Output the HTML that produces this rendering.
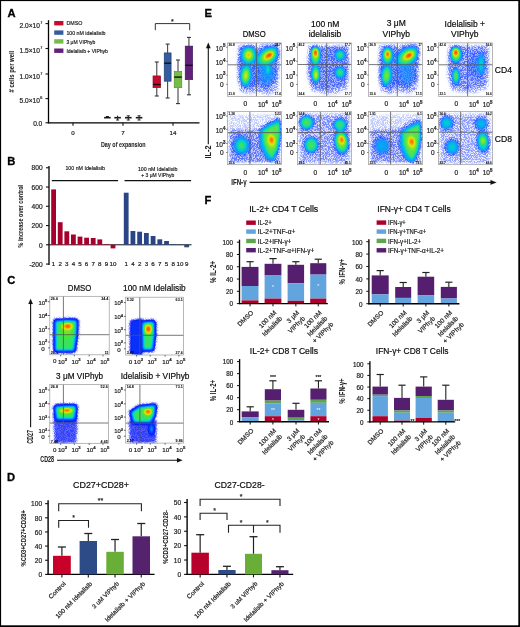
<!DOCTYPE html>
<html><head><meta charset="utf-8"><style>
html,body{margin:0;padding:0;background:#fff;width:520px;height:627px;overflow:hidden}
svg{display:block;filter:blur(0.35px)}
text{font-family:"Liberation Sans", sans-serif;stroke:#222;stroke-width:0.2px}
text[fill="#fff"]{stroke:none}
text[font-weight="bold"]{stroke-width:0.05px}
</style></head><body>
<svg width="520" height="627" viewBox="0 0 520 627">
<defs><radialGradient id="rgw"><stop offset="0" stop-color="#fff" stop-opacity="1"/><stop offset="0.45" stop-color="#fff" stop-opacity="0.75"/><stop offset="1" stop-color="#fff" stop-opacity="0"/></radialGradient><radialGradient id="rgf"><stop offset="0" stop-color="#fff" stop-opacity="1"/><stop offset="0.55" stop-color="#fff" stop-opacity="0.8"/><stop offset="1" stop-color="#fff" stop-opacity="0"/></radialGradient><filter id="fl1" filterUnits="userSpaceOnUse" x="49.8" y="296.3" width="59.400000000000006" height="58.5" color-interpolation-filters="sRGB"><feFlood flood-color="#000" result="bk"/><feGaussianBlur in="SourceGraphic" stdDeviation="0.8" result="bl"/><feComposite in="bl" in2="bk" operator="over" result="gr"/><feComponentTransfer in="gr" result="col"><feFuncR type="table" tableValues="1.000 0.890 0.780 0.637 0.494 0.360 0.260 0.160 0.060 0.041 0.023 0.004 0.000 0.000 0.000 0.000 0.010 0.022 0.035 0.048 0.092 0.144 0.196 0.248 0.300 0.415 0.529 0.644 0.758 0.856 0.888 0.919 0.950 0.981 0.995 0.983 0.970 0.958 0.945 0.932 0.920"/><feFuncG type="table" tableValues="1.000 0.900 0.800 0.664 0.529 0.401 0.307 0.214 0.120 0.170 0.220 0.270 0.356 0.451 0.546 0.641 0.704 0.759 0.814 0.869 0.883 0.888 0.892 0.896 0.900 0.904 0.908 0.913 0.917 0.905 0.827 0.750 0.673 0.596 0.523 0.456 0.389 0.322 0.254 0.187 0.120"/><feFuncB type="table" tableValues="1.000 1.000 1.000 1.000 1.000 0.998 0.989 0.979 0.970 0.979 0.989 0.998 1.000 1.000 1.000 1.000 0.940 0.865 0.790 0.715 0.617 0.512 0.408 0.304 0.200 0.169 0.137 0.106 0.075 0.048 0.037 0.027 0.017 0.006 0.000 0.000 0.000 0.000 0.000 0.000 0.000"/></feComponentTransfer><feTurbulence type="fractalNoise" baseFrequency="1.3" numOctaves="1" seed="1" result="tn"/><feComponentTransfer in="tn" result="spk"><feFuncR type="linear" slope="0" intercept="1"/><feFuncG type="linear" slope="0" intercept="1"/><feFuncB type="linear" slope="0" intercept="1"/><feFuncA type="linear" slope="6" intercept="-2.6"/></feComponentTransfer><feColorMatrix in="gr" type="matrix" values="0 0 0 0 1  0 0 0 0 1  0 0 0 0 1  -7.00 0 0 0 1.35" result="msk"/><feComposite in="spk" in2="msk" operator="in" result="spk2"/><feComposite in="spk2" in2="col" operator="over"/></filter><filter id="fl2" filterUnits="userSpaceOnUse" x="125.7" y="297.2" width="57.89999999999999" height="57.80000000000001" color-interpolation-filters="sRGB"><feFlood flood-color="#000" result="bk"/><feGaussianBlur in="SourceGraphic" stdDeviation="0.8" result="bl"/><feComposite in="bl" in2="bk" operator="over" result="gr"/><feComponentTransfer in="gr" result="col"><feFuncR type="table" tableValues="1.000 0.890 0.780 0.637 0.494 0.360 0.260 0.160 0.060 0.041 0.023 0.004 0.000 0.000 0.000 0.000 0.010 0.022 0.035 0.048 0.092 0.144 0.196 0.248 0.300 0.415 0.529 0.644 0.758 0.856 0.888 0.919 0.950 0.981 0.995 0.983 0.970 0.958 0.945 0.932 0.920"/><feFuncG type="table" tableValues="1.000 0.900 0.800 0.664 0.529 0.401 0.307 0.214 0.120 0.170 0.220 0.270 0.356 0.451 0.546 0.641 0.704 0.759 0.814 0.869 0.883 0.888 0.892 0.896 0.900 0.904 0.908 0.913 0.917 0.905 0.827 0.750 0.673 0.596 0.523 0.456 0.389 0.322 0.254 0.187 0.120"/><feFuncB type="table" tableValues="1.000 1.000 1.000 1.000 1.000 0.998 0.989 0.979 0.970 0.979 0.989 0.998 1.000 1.000 1.000 1.000 0.940 0.865 0.790 0.715 0.617 0.512 0.408 0.304 0.200 0.169 0.137 0.106 0.075 0.048 0.037 0.027 0.017 0.006 0.000 0.000 0.000 0.000 0.000 0.000 0.000"/></feComponentTransfer><feTurbulence type="fractalNoise" baseFrequency="1.3" numOctaves="1" seed="2" result="tn"/><feComponentTransfer in="tn" result="spk"><feFuncR type="linear" slope="0" intercept="1"/><feFuncG type="linear" slope="0" intercept="1"/><feFuncB type="linear" slope="0" intercept="1"/><feFuncA type="linear" slope="6" intercept="-2.6"/></feComponentTransfer><feColorMatrix in="gr" type="matrix" values="0 0 0 0 1  0 0 0 0 1  0 0 0 0 1  -7.00 0 0 0 1.35" result="msk"/><feComposite in="spk" in2="msk" operator="in" result="spk2"/><feComposite in="spk2" in2="col" operator="over"/></filter><filter id="fl3" filterUnits="userSpaceOnUse" x="49.8" y="384.6" width="58.8" height="58.69999999999999" color-interpolation-filters="sRGB"><feFlood flood-color="#000" result="bk"/><feGaussianBlur in="SourceGraphic" stdDeviation="0.8" result="bl"/><feComposite in="bl" in2="bk" operator="over" result="gr"/><feComponentTransfer in="gr" result="col"><feFuncR type="table" tableValues="1.000 0.890 0.780 0.637 0.494 0.360 0.260 0.160 0.060 0.041 0.023 0.004 0.000 0.000 0.000 0.000 0.010 0.022 0.035 0.048 0.092 0.144 0.196 0.248 0.300 0.415 0.529 0.644 0.758 0.856 0.888 0.919 0.950 0.981 0.995 0.983 0.970 0.958 0.945 0.932 0.920"/><feFuncG type="table" tableValues="1.000 0.900 0.800 0.664 0.529 0.401 0.307 0.214 0.120 0.170 0.220 0.270 0.356 0.451 0.546 0.641 0.704 0.759 0.814 0.869 0.883 0.888 0.892 0.896 0.900 0.904 0.908 0.913 0.917 0.905 0.827 0.750 0.673 0.596 0.523 0.456 0.389 0.322 0.254 0.187 0.120"/><feFuncB type="table" tableValues="1.000 1.000 1.000 1.000 1.000 0.998 0.989 0.979 0.970 0.979 0.989 0.998 1.000 1.000 1.000 1.000 0.940 0.865 0.790 0.715 0.617 0.512 0.408 0.304 0.200 0.169 0.137 0.106 0.075 0.048 0.037 0.027 0.017 0.006 0.000 0.000 0.000 0.000 0.000 0.000 0.000"/></feComponentTransfer><feTurbulence type="fractalNoise" baseFrequency="1.3" numOctaves="1" seed="3" result="tn"/><feComponentTransfer in="tn" result="spk"><feFuncR type="linear" slope="0" intercept="1"/><feFuncG type="linear" slope="0" intercept="1"/><feFuncB type="linear" slope="0" intercept="1"/><feFuncA type="linear" slope="6" intercept="-2.6"/></feComponentTransfer><feColorMatrix in="gr" type="matrix" values="0 0 0 0 1  0 0 0 0 1  0 0 0 0 1  -7.00 0 0 0 1.35" result="msk"/><feComposite in="spk" in2="msk" operator="in" result="spk2"/><feComposite in="spk2" in2="col" operator="over"/></filter><filter id="fl4" filterUnits="userSpaceOnUse" x="125.7" y="384.6" width="57.89999999999999" height="58.5" color-interpolation-filters="sRGB"><feFlood flood-color="#000" result="bk"/><feGaussianBlur in="SourceGraphic" stdDeviation="0.8" result="bl"/><feComposite in="bl" in2="bk" operator="over" result="gr"/><feComponentTransfer in="gr" result="col"><feFuncR type="table" tableValues="1.000 0.890 0.780 0.637 0.494 0.360 0.260 0.160 0.060 0.041 0.023 0.004 0.000 0.000 0.000 0.000 0.010 0.022 0.035 0.048 0.092 0.144 0.196 0.248 0.300 0.415 0.529 0.644 0.758 0.856 0.888 0.919 0.950 0.981 0.995 0.983 0.970 0.958 0.945 0.932 0.920"/><feFuncG type="table" tableValues="1.000 0.900 0.800 0.664 0.529 0.401 0.307 0.214 0.120 0.170 0.220 0.270 0.356 0.451 0.546 0.641 0.704 0.759 0.814 0.869 0.883 0.888 0.892 0.896 0.900 0.904 0.908 0.913 0.917 0.905 0.827 0.750 0.673 0.596 0.523 0.456 0.389 0.322 0.254 0.187 0.120"/><feFuncB type="table" tableValues="1.000 1.000 1.000 1.000 1.000 0.998 0.989 0.979 0.970 0.979 0.989 0.998 1.000 1.000 1.000 1.000 0.940 0.865 0.790 0.715 0.617 0.512 0.408 0.304 0.200 0.169 0.137 0.106 0.075 0.048 0.037 0.027 0.017 0.006 0.000 0.000 0.000 0.000 0.000 0.000 0.000"/></feComponentTransfer><feTurbulence type="fractalNoise" baseFrequency="1.3" numOctaves="1" seed="4" result="tn"/><feComponentTransfer in="tn" result="spk"><feFuncR type="linear" slope="0" intercept="1"/><feFuncG type="linear" slope="0" intercept="1"/><feFuncB type="linear" slope="0" intercept="1"/><feFuncA type="linear" slope="6" intercept="-2.6"/></feComponentTransfer><feColorMatrix in="gr" type="matrix" values="0 0 0 0 1  0 0 0 0 1  0 0 0 0 1  -7.00 0 0 0 1.35" result="msk"/><feComposite in="spk" in2="msk" operator="in" result="spk2"/><feComposite in="spk2" in2="col" operator="over"/></filter><filter id="fl5" filterUnits="userSpaceOnUse" x="227.6" y="42.9" width="54.00000000000003" height="53.4" color-interpolation-filters="sRGB"><feFlood flood-color="#000" result="bk"/><feGaussianBlur in="SourceGraphic" stdDeviation="1.0" result="bl"/><feComposite in="bl" in2="bk" operator="over" result="gr"/><feComponentTransfer in="gr" result="col"><feFuncR type="table" tableValues="1.000 0.875 0.750 0.625 0.500 0.388 0.325 0.263 0.200 0.163 0.125 0.087 0.050 0.037 0.025 0.013 0.000 0.050 0.100 0.150 0.200 0.263 0.325 0.387 0.450 0.533 0.617 0.700 0.783 0.856 0.888 0.919 0.950 0.981 0.995 0.983 0.970 0.958 0.945 0.932 0.920"/><feFuncG type="table" tableValues="1.000 0.900 0.800 0.686 0.571 0.472 0.435 0.398 0.360 0.415 0.470 0.525 0.580 0.635 0.690 0.745 0.800 0.820 0.840 0.860 0.880 0.885 0.890 0.895 0.900 0.904 0.908 0.913 0.917 0.905 0.827 0.750 0.673 0.596 0.523 0.456 0.389 0.322 0.254 0.187 0.120"/><feFuncB type="table" tableValues="1.000 1.000 1.000 1.000 1.000 1.000 1.000 1.000 1.000 1.000 1.000 1.000 1.000 0.963 0.925 0.887 0.850 0.750 0.650 0.550 0.450 0.387 0.325 0.263 0.200 0.169 0.137 0.106 0.075 0.048 0.037 0.027 0.017 0.006 0.000 0.000 0.000 0.000 0.000 0.000 0.000"/></feComponentTransfer><feTurbulence type="fractalNoise" baseFrequency="1.3" numOctaves="1" seed="5" result="tn"/><feComponentTransfer in="tn" result="spk"><feFuncR type="linear" slope="0" intercept="1"/><feFuncG type="linear" slope="0" intercept="1"/><feFuncB type="linear" slope="0" intercept="1"/><feFuncA type="linear" slope="6" intercept="-2.6"/></feComponentTransfer><feColorMatrix in="gr" type="matrix" values="0 0 0 0 1  0 0 0 0 1  0 0 0 0 1  -3.60 0 0 0 1.15" result="msk"/><feComposite in="spk" in2="msk" operator="in" result="spk2"/><feComposite in="spk2" in2="col" operator="over"/></filter><filter id="fl6" filterUnits="userSpaceOnUse" x="297.5" y="42.9" width="54.0" height="53.4" color-interpolation-filters="sRGB"><feFlood flood-color="#000" result="bk"/><feGaussianBlur in="SourceGraphic" stdDeviation="1.0" result="bl"/><feComposite in="bl" in2="bk" operator="over" result="gr"/><feComponentTransfer in="gr" result="col"><feFuncR type="table" tableValues="1.000 0.875 0.750 0.625 0.500 0.388 0.325 0.263 0.200 0.163 0.125 0.087 0.050 0.037 0.025 0.013 0.000 0.050 0.100 0.150 0.200 0.263 0.325 0.387 0.450 0.533 0.617 0.700 0.783 0.856 0.888 0.919 0.950 0.981 0.995 0.983 0.970 0.958 0.945 0.932 0.920"/><feFuncG type="table" tableValues="1.000 0.900 0.800 0.686 0.571 0.472 0.435 0.398 0.360 0.415 0.470 0.525 0.580 0.635 0.690 0.745 0.800 0.820 0.840 0.860 0.880 0.885 0.890 0.895 0.900 0.904 0.908 0.913 0.917 0.905 0.827 0.750 0.673 0.596 0.523 0.456 0.389 0.322 0.254 0.187 0.120"/><feFuncB type="table" tableValues="1.000 1.000 1.000 1.000 1.000 1.000 1.000 1.000 1.000 1.000 1.000 1.000 1.000 0.963 0.925 0.887 0.850 0.750 0.650 0.550 0.450 0.387 0.325 0.263 0.200 0.169 0.137 0.106 0.075 0.048 0.037 0.027 0.017 0.006 0.000 0.000 0.000 0.000 0.000 0.000 0.000"/></feComponentTransfer><feTurbulence type="fractalNoise" baseFrequency="1.3" numOctaves="1" seed="6" result="tn"/><feComponentTransfer in="tn" result="spk"><feFuncR type="linear" slope="0" intercept="1"/><feFuncG type="linear" slope="0" intercept="1"/><feFuncB type="linear" slope="0" intercept="1"/><feFuncA type="linear" slope="6" intercept="-2.6"/></feComponentTransfer><feColorMatrix in="gr" type="matrix" values="0 0 0 0 1  0 0 0 0 1  0 0 0 0 1  -3.60 0 0 0 1.15" result="msk"/><feComposite in="spk" in2="msk" operator="in" result="spk2"/><feComposite in="spk2" in2="col" operator="over"/></filter><filter id="fl7" filterUnits="userSpaceOnUse" x="368.6" y="42.9" width="54.0" height="53.4" color-interpolation-filters="sRGB"><feFlood flood-color="#000" result="bk"/><feGaussianBlur in="SourceGraphic" stdDeviation="1.0" result="bl"/><feComposite in="bl" in2="bk" operator="over" result="gr"/><feComponentTransfer in="gr" result="col"><feFuncR type="table" tableValues="1.000 0.875 0.750 0.625 0.500 0.388 0.325 0.263 0.200 0.163 0.125 0.087 0.050 0.037 0.025 0.013 0.000 0.050 0.100 0.150 0.200 0.263 0.325 0.387 0.450 0.533 0.617 0.700 0.783 0.856 0.888 0.919 0.950 0.981 0.995 0.983 0.970 0.958 0.945 0.932 0.920"/><feFuncG type="table" tableValues="1.000 0.900 0.800 0.686 0.571 0.472 0.435 0.398 0.360 0.415 0.470 0.525 0.580 0.635 0.690 0.745 0.800 0.820 0.840 0.860 0.880 0.885 0.890 0.895 0.900 0.904 0.908 0.913 0.917 0.905 0.827 0.750 0.673 0.596 0.523 0.456 0.389 0.322 0.254 0.187 0.120"/><feFuncB type="table" tableValues="1.000 1.000 1.000 1.000 1.000 1.000 1.000 1.000 1.000 1.000 1.000 1.000 1.000 0.963 0.925 0.887 0.850 0.750 0.650 0.550 0.450 0.387 0.325 0.263 0.200 0.169 0.137 0.106 0.075 0.048 0.037 0.027 0.017 0.006 0.000 0.000 0.000 0.000 0.000 0.000 0.000"/></feComponentTransfer><feTurbulence type="fractalNoise" baseFrequency="1.3" numOctaves="1" seed="7" result="tn"/><feComponentTransfer in="tn" result="spk"><feFuncR type="linear" slope="0" intercept="1"/><feFuncG type="linear" slope="0" intercept="1"/><feFuncB type="linear" slope="0" intercept="1"/><feFuncA type="linear" slope="6" intercept="-2.6"/></feComponentTransfer><feColorMatrix in="gr" type="matrix" values="0 0 0 0 1  0 0 0 0 1  0 0 0 0 1  -3.60 0 0 0 1.15" result="msk"/><feComposite in="spk" in2="msk" operator="in" result="spk2"/><feComposite in="spk2" in2="col" operator="over"/></filter><filter id="fl8" filterUnits="userSpaceOnUse" x="438.6" y="42.9" width="54.0" height="53.4" color-interpolation-filters="sRGB"><feFlood flood-color="#000" result="bk"/><feGaussianBlur in="SourceGraphic" stdDeviation="1.0" result="bl"/><feComposite in="bl" in2="bk" operator="over" result="gr"/><feComponentTransfer in="gr" result="col"><feFuncR type="table" tableValues="1.000 0.875 0.750 0.625 0.500 0.388 0.325 0.263 0.200 0.163 0.125 0.087 0.050 0.037 0.025 0.013 0.000 0.050 0.100 0.150 0.200 0.263 0.325 0.387 0.450 0.533 0.617 0.700 0.783 0.856 0.888 0.919 0.950 0.981 0.995 0.983 0.970 0.958 0.945 0.932 0.920"/><feFuncG type="table" tableValues="1.000 0.900 0.800 0.686 0.571 0.472 0.435 0.398 0.360 0.415 0.470 0.525 0.580 0.635 0.690 0.745 0.800 0.820 0.840 0.860 0.880 0.885 0.890 0.895 0.900 0.904 0.908 0.913 0.917 0.905 0.827 0.750 0.673 0.596 0.523 0.456 0.389 0.322 0.254 0.187 0.120"/><feFuncB type="table" tableValues="1.000 1.000 1.000 1.000 1.000 1.000 1.000 1.000 1.000 1.000 1.000 1.000 1.000 0.963 0.925 0.887 0.850 0.750 0.650 0.550 0.450 0.387 0.325 0.263 0.200 0.169 0.137 0.106 0.075 0.048 0.037 0.027 0.017 0.006 0.000 0.000 0.000 0.000 0.000 0.000 0.000"/></feComponentTransfer><feTurbulence type="fractalNoise" baseFrequency="1.3" numOctaves="1" seed="8" result="tn"/><feComponentTransfer in="tn" result="spk"><feFuncR type="linear" slope="0" intercept="1"/><feFuncG type="linear" slope="0" intercept="1"/><feFuncB type="linear" slope="0" intercept="1"/><feFuncA type="linear" slope="6" intercept="-2.6"/></feComponentTransfer><feColorMatrix in="gr" type="matrix" values="0 0 0 0 1  0 0 0 0 1  0 0 0 0 1  -3.60 0 0 0 1.15" result="msk"/><feComposite in="spk" in2="msk" operator="in" result="spk2"/><feComposite in="spk2" in2="col" operator="over"/></filter><filter id="fl9" filterUnits="userSpaceOnUse" x="227.6" y="111.6" width="54.00000000000003" height="53.099999999999994" color-interpolation-filters="sRGB"><feFlood flood-color="#000" result="bk"/><feGaussianBlur in="SourceGraphic" stdDeviation="1.2" result="bl"/><feComposite in="bl" in2="bk" operator="over" result="gr"/><feComponentTransfer in="gr" result="col"><feFuncR type="table" tableValues="1.000 0.875 0.750 0.625 0.500 0.388 0.325 0.263 0.200 0.163 0.125 0.087 0.050 0.037 0.025 0.013 0.000 0.050 0.100 0.150 0.200 0.263 0.325 0.387 0.450 0.533 0.617 0.700 0.783 0.856 0.888 0.919 0.950 0.981 0.995 0.983 0.970 0.958 0.945 0.932 0.920"/><feFuncG type="table" tableValues="1.000 0.900 0.800 0.686 0.571 0.472 0.435 0.398 0.360 0.415 0.470 0.525 0.580 0.635 0.690 0.745 0.800 0.820 0.840 0.860 0.880 0.885 0.890 0.895 0.900 0.904 0.908 0.913 0.917 0.905 0.827 0.750 0.673 0.596 0.523 0.456 0.389 0.322 0.254 0.187 0.120"/><feFuncB type="table" tableValues="1.000 1.000 1.000 1.000 1.000 1.000 1.000 1.000 1.000 1.000 1.000 1.000 1.000 0.963 0.925 0.887 0.850 0.750 0.650 0.550 0.450 0.387 0.325 0.263 0.200 0.169 0.137 0.106 0.075 0.048 0.037 0.027 0.017 0.006 0.000 0.000 0.000 0.000 0.000 0.000 0.000"/></feComponentTransfer><feTurbulence type="fractalNoise" baseFrequency="1.3" numOctaves="1" seed="9" result="tn"/><feComponentTransfer in="tn" result="spk"><feFuncR type="linear" slope="0" intercept="1"/><feFuncG type="linear" slope="0" intercept="1"/><feFuncB type="linear" slope="0" intercept="1"/><feFuncA type="linear" slope="6" intercept="-2.6"/></feComponentTransfer><feColorMatrix in="gr" type="matrix" values="0 0 0 0 1  0 0 0 0 1  0 0 0 0 1  -3.60 0 0 0 1.15" result="msk"/><feComposite in="spk" in2="msk" operator="in" result="spk2"/><feComposite in="spk2" in2="col" operator="over"/></filter><filter id="fl10" filterUnits="userSpaceOnUse" x="297.5" y="111.6" width="54.0" height="53.099999999999994" color-interpolation-filters="sRGB"><feFlood flood-color="#000" result="bk"/><feGaussianBlur in="SourceGraphic" stdDeviation="1.2" result="bl"/><feComposite in="bl" in2="bk" operator="over" result="gr"/><feComponentTransfer in="gr" result="col"><feFuncR type="table" tableValues="1.000 0.875 0.750 0.625 0.500 0.388 0.325 0.263 0.200 0.163 0.125 0.087 0.050 0.037 0.025 0.013 0.000 0.050 0.100 0.150 0.200 0.263 0.325 0.387 0.450 0.533 0.617 0.700 0.783 0.856 0.888 0.919 0.950 0.981 0.995 0.983 0.970 0.958 0.945 0.932 0.920"/><feFuncG type="table" tableValues="1.000 0.900 0.800 0.686 0.571 0.472 0.435 0.398 0.360 0.415 0.470 0.525 0.580 0.635 0.690 0.745 0.800 0.820 0.840 0.860 0.880 0.885 0.890 0.895 0.900 0.904 0.908 0.913 0.917 0.905 0.827 0.750 0.673 0.596 0.523 0.456 0.389 0.322 0.254 0.187 0.120"/><feFuncB type="table" tableValues="1.000 1.000 1.000 1.000 1.000 1.000 1.000 1.000 1.000 1.000 1.000 1.000 1.000 0.963 0.925 0.887 0.850 0.750 0.650 0.550 0.450 0.387 0.325 0.263 0.200 0.169 0.137 0.106 0.075 0.048 0.037 0.027 0.017 0.006 0.000 0.000 0.000 0.000 0.000 0.000 0.000"/></feComponentTransfer><feTurbulence type="fractalNoise" baseFrequency="1.3" numOctaves="1" seed="10" result="tn"/><feComponentTransfer in="tn" result="spk"><feFuncR type="linear" slope="0" intercept="1"/><feFuncG type="linear" slope="0" intercept="1"/><feFuncB type="linear" slope="0" intercept="1"/><feFuncA type="linear" slope="6" intercept="-2.6"/></feComponentTransfer><feColorMatrix in="gr" type="matrix" values="0 0 0 0 1  0 0 0 0 1  0 0 0 0 1  -3.60 0 0 0 1.15" result="msk"/><feComposite in="spk" in2="msk" operator="in" result="spk2"/><feComposite in="spk2" in2="col" operator="over"/></filter><filter id="fl11" filterUnits="userSpaceOnUse" x="368.6" y="111.6" width="54.0" height="53.099999999999994" color-interpolation-filters="sRGB"><feFlood flood-color="#000" result="bk"/><feGaussianBlur in="SourceGraphic" stdDeviation="1.2" result="bl"/><feComposite in="bl" in2="bk" operator="over" result="gr"/><feComponentTransfer in="gr" result="col"><feFuncR type="table" tableValues="1.000 0.875 0.750 0.625 0.500 0.388 0.325 0.263 0.200 0.163 0.125 0.087 0.050 0.037 0.025 0.013 0.000 0.050 0.100 0.150 0.200 0.263 0.325 0.387 0.450 0.533 0.617 0.700 0.783 0.856 0.888 0.919 0.950 0.981 0.995 0.983 0.970 0.958 0.945 0.932 0.920"/><feFuncG type="table" tableValues="1.000 0.900 0.800 0.686 0.571 0.472 0.435 0.398 0.360 0.415 0.470 0.525 0.580 0.635 0.690 0.745 0.800 0.820 0.840 0.860 0.880 0.885 0.890 0.895 0.900 0.904 0.908 0.913 0.917 0.905 0.827 0.750 0.673 0.596 0.523 0.456 0.389 0.322 0.254 0.187 0.120"/><feFuncB type="table" tableValues="1.000 1.000 1.000 1.000 1.000 1.000 1.000 1.000 1.000 1.000 1.000 1.000 1.000 0.963 0.925 0.887 0.850 0.750 0.650 0.550 0.450 0.387 0.325 0.263 0.200 0.169 0.137 0.106 0.075 0.048 0.037 0.027 0.017 0.006 0.000 0.000 0.000 0.000 0.000 0.000 0.000"/></feComponentTransfer><feTurbulence type="fractalNoise" baseFrequency="1.3" numOctaves="1" seed="11" result="tn"/><feComponentTransfer in="tn" result="spk"><feFuncR type="linear" slope="0" intercept="1"/><feFuncG type="linear" slope="0" intercept="1"/><feFuncB type="linear" slope="0" intercept="1"/><feFuncA type="linear" slope="6" intercept="-2.6"/></feComponentTransfer><feColorMatrix in="gr" type="matrix" values="0 0 0 0 1  0 0 0 0 1  0 0 0 0 1  -3.60 0 0 0 1.15" result="msk"/><feComposite in="spk" in2="msk" operator="in" result="spk2"/><feComposite in="spk2" in2="col" operator="over"/></filter><filter id="fl12" filterUnits="userSpaceOnUse" x="438.6" y="111.6" width="54.0" height="53.099999999999994" color-interpolation-filters="sRGB"><feFlood flood-color="#000" result="bk"/><feGaussianBlur in="SourceGraphic" stdDeviation="1.2" result="bl"/><feComposite in="bl" in2="bk" operator="over" result="gr"/><feComponentTransfer in="gr" result="col"><feFuncR type="table" tableValues="1.000 0.875 0.750 0.625 0.500 0.388 0.325 0.263 0.200 0.163 0.125 0.087 0.050 0.037 0.025 0.013 0.000 0.050 0.100 0.150 0.200 0.263 0.325 0.387 0.450 0.533 0.617 0.700 0.783 0.856 0.888 0.919 0.950 0.981 0.995 0.983 0.970 0.958 0.945 0.932 0.920"/><feFuncG type="table" tableValues="1.000 0.900 0.800 0.686 0.571 0.472 0.435 0.398 0.360 0.415 0.470 0.525 0.580 0.635 0.690 0.745 0.800 0.820 0.840 0.860 0.880 0.885 0.890 0.895 0.900 0.904 0.908 0.913 0.917 0.905 0.827 0.750 0.673 0.596 0.523 0.456 0.389 0.322 0.254 0.187 0.120"/><feFuncB type="table" tableValues="1.000 1.000 1.000 1.000 1.000 1.000 1.000 1.000 1.000 1.000 1.000 1.000 1.000 0.963 0.925 0.887 0.850 0.750 0.650 0.550 0.450 0.387 0.325 0.263 0.200 0.169 0.137 0.106 0.075 0.048 0.037 0.027 0.017 0.006 0.000 0.000 0.000 0.000 0.000 0.000 0.000"/></feComponentTransfer><feTurbulence type="fractalNoise" baseFrequency="1.3" numOctaves="1" seed="12" result="tn"/><feComponentTransfer in="tn" result="spk"><feFuncR type="linear" slope="0" intercept="1"/><feFuncG type="linear" slope="0" intercept="1"/><feFuncB type="linear" slope="0" intercept="1"/><feFuncA type="linear" slope="6" intercept="-2.6"/></feComponentTransfer><feColorMatrix in="gr" type="matrix" values="0 0 0 0 1  0 0 0 0 1  0 0 0 0 1  -3.60 0 0 0 1.15" result="msk"/><feComposite in="spk" in2="msk" operator="in" result="spk2"/><feComposite in="spk2" in2="col" operator="over"/></filter></defs>
<rect width="520" height="627" fill="#fff"/>
<text x="7.60" y="13.20" font-size="11.2" text-anchor="start" font-weight="bold" fill="#000" dominant-baseline="central" style="stroke:#000;stroke-width:0.3px">A</text>
<line x1="48.50" y1="20.20" x2="48.50" y2="123.20" stroke="#000" stroke-width="1.3"/>
<line x1="47.90" y1="122.80" x2="199.50" y2="122.80" stroke="#000" stroke-width="1.3"/>
<line x1="45.50" y1="23.60" x2="48.50" y2="23.60" stroke="#111" stroke-width="1.1"/>
<text x="39.9" y="25.60" font-size="6.6" text-anchor="end" dominant-baseline="central" fill="#222">2.0×10</text>
<text x="40.20" y="23.30" font-size="3.8" text-anchor="start" fill="#222" dominant-baseline="central">7</text>
<line x1="45.50" y1="48.50" x2="48.50" y2="48.50" stroke="#111" stroke-width="1.1"/>
<text x="39.9" y="50.50" font-size="6.6" text-anchor="end" dominant-baseline="central" fill="#222">1.5×10</text>
<text x="40.20" y="48.20" font-size="3.8" text-anchor="start" fill="#222" dominant-baseline="central">7</text>
<line x1="45.50" y1="74.00" x2="48.50" y2="74.00" stroke="#111" stroke-width="1.1"/>
<text x="39.9" y="76.00" font-size="6.6" text-anchor="end" dominant-baseline="central" fill="#222">1.0×10</text>
<text x="40.20" y="73.70" font-size="3.8" text-anchor="start" fill="#222" dominant-baseline="central">7</text>
<line x1="45.50" y1="98.60" x2="48.50" y2="98.60" stroke="#111" stroke-width="1.1"/>
<text x="39.9" y="100.60" font-size="6.6" text-anchor="end" dominant-baseline="central" fill="#222">5.0×10</text>
<text x="40.20" y="98.30" font-size="3.8" text-anchor="start" fill="#222" dominant-baseline="central">6</text>
<line x1="45.50" y1="122.80" x2="48.50" y2="122.80" stroke="#111" stroke-width="1.1"/>
<text x="42.30" y="123.60" font-size="6.6" text-anchor="end" fill="#222" dominant-baseline="central">0.0</text>
<line x1="73.00" y1="122.80" x2="73.00" y2="125.80" stroke="#111" stroke-width="1.1"/>
<text x="73.00" y="132.30" font-size="6.2" text-anchor="middle" fill="#222" dominant-baseline="central">0</text>
<line x1="123.00" y1="122.80" x2="123.00" y2="125.80" stroke="#111" stroke-width="1.1"/>
<text x="123.00" y="132.30" font-size="6.2" text-anchor="middle" fill="#222" dominant-baseline="central">7</text>
<line x1="173.00" y1="122.80" x2="173.00" y2="125.80" stroke="#111" stroke-width="1.1"/>
<text x="173.00" y="132.30" font-size="6.2" text-anchor="middle" fill="#222" dominant-baseline="central">14</text>
<text x="123.30" y="144.00" font-size="8.0" text-anchor="middle" font-weight="bold" fill="#222" textLength="44.7" lengthAdjust="spacingAndGlyphs" dominant-baseline="central">Day of expansion</text>
<text x="11.40" y="71.60" font-size="8.0" text-anchor="middle" font-weight="bold" fill="#222" textLength="41.6" lengthAdjust="spacingAndGlyphs" transform="rotate(-90 11.40 71.60)" dominant-baseline="central"># cells per well</text>
<rect x="54.20" y="21.00" width="9.20" height="4.40" fill="#c80a2c"/>
<text x="66.40" y="23.30" font-size="6.0" text-anchor="start" fill="#222" textLength="15.9" lengthAdjust="spacingAndGlyphs" dominant-baseline="central">DMSO</text>
<rect x="54.20" y="30.40" width="9.20" height="4.40" fill="#345c9e"/>
<text x="66.40" y="32.70" font-size="6.0" text-anchor="start" fill="#222" textLength="39.1" lengthAdjust="spacingAndGlyphs" dominant-baseline="central">100 nM idelalisib</text>
<rect x="54.20" y="39.20" width="9.20" height="4.40" fill="#78bc48"/>
<text x="66.40" y="41.50" font-size="6.0" text-anchor="start" fill="#222" textLength="29" lengthAdjust="spacingAndGlyphs" dominant-baseline="central">3 μM VIPhyb</text>
<rect x="54.20" y="48.50" width="9.20" height="4.40" fill="#62207a"/>
<text x="66.40" y="50.80" font-size="6.0" text-anchor="start" fill="#222" textLength="41.5" lengthAdjust="spacingAndGlyphs" dominant-baseline="central">Idelalisib + VIPhyb</text>
<path d="M155.3 30.2 V23.6 H189.7 V30.2" stroke="#333" stroke-width="1.0" fill="none"/>
<text x="172.30" y="21.60" font-size="7.2" text-anchor="middle" fill="#222" dominant-baseline="central">*</text>
<line x1="156.80" y1="62.00" x2="156.80" y2="75.90" stroke="#333" stroke-width="1.0"/>
<line x1="156.80" y1="87.70" x2="156.80" y2="96.00" stroke="#333" stroke-width="1.0"/>
<line x1="154.80" y1="62.00" x2="158.80" y2="62.00" stroke="#333" stroke-width="1.1"/>
<line x1="154.80" y1="96.00" x2="158.80" y2="96.00" stroke="#333" stroke-width="1.1"/>
<rect x="153.00" y="75.90" width="7.60" height="11.80" fill="#c80a2c" stroke="#8a0020" stroke-width="0.6"/>
<line x1="153.00" y1="84.50" x2="160.60" y2="84.50" stroke="#111" stroke-width="1.4"/>
<line x1="167.65" y1="44.10" x2="167.65" y2="52.90" stroke="#333" stroke-width="1.0"/>
<line x1="167.65" y1="81.20" x2="167.65" y2="98.00" stroke="#333" stroke-width="1.0"/>
<line x1="165.65" y1="44.10" x2="169.65" y2="44.10" stroke="#333" stroke-width="1.1"/>
<line x1="165.65" y1="98.00" x2="169.65" y2="98.00" stroke="#333" stroke-width="1.1"/>
<rect x="164.20" y="52.90" width="6.90" height="28.30" fill="#345c9e" stroke="#1d3566" stroke-width="0.6"/>
<line x1="164.20" y1="63.20" x2="171.10" y2="63.20" stroke="#111" stroke-width="1.4"/>
<line x1="178.00" y1="60.00" x2="178.00" y2="71.40" stroke="#333" stroke-width="1.0"/>
<line x1="178.00" y1="87.70" x2="178.00" y2="103.60" stroke="#333" stroke-width="1.0"/>
<line x1="176.00" y1="60.00" x2="180.00" y2="60.00" stroke="#333" stroke-width="1.1"/>
<line x1="176.00" y1="103.60" x2="180.00" y2="103.60" stroke="#333" stroke-width="1.1"/>
<rect x="174.20" y="71.40" width="7.60" height="16.30" fill="#78bc48" stroke="#4d8a2a" stroke-width="0.6"/>
<line x1="174.20" y1="77.10" x2="181.80" y2="77.10" stroke="#111" stroke-width="1.4"/>
<line x1="188.95" y1="37.40" x2="188.95" y2="46.10" stroke="#333" stroke-width="1.0"/>
<line x1="188.95" y1="79.70" x2="188.95" y2="94.80" stroke="#333" stroke-width="1.0"/>
<line x1="186.95" y1="37.40" x2="190.95" y2="37.40" stroke="#333" stroke-width="1.1"/>
<line x1="186.95" y1="94.80" x2="190.95" y2="94.80" stroke="#333" stroke-width="1.1"/>
<rect x="185.20" y="46.10" width="7.50" height="33.60" fill="#62207a" stroke="#3e1550" stroke-width="0.6"/>
<line x1="185.20" y1="65.30" x2="192.70" y2="65.30" stroke="#111" stroke-width="1.4"/>
<rect x="104.10" y="116.90" width="6.60" height="1.60" fill="#1a1a1a"/>
<rect x="105.90" y="116.00" width="3.00" height="1.20" fill="#1a1a1a"/>
<rect x="114.30" y="116.90" width="6.60" height="1.60" fill="#1a1a1a"/>
<line x1="117.60" y1="115.60" x2="117.60" y2="120.20" stroke="#222" stroke-width="1.0"/>
<line x1="116.00" y1="120.00" x2="119.20" y2="120.00" stroke="#222" stroke-width="0.9"/>
<rect x="125.00" y="116.90" width="6.60" height="1.60" fill="#1a1a1a"/>
<line x1="128.30" y1="115.60" x2="128.30" y2="120.20" stroke="#222" stroke-width="1.0"/>
<line x1="126.70" y1="120.00" x2="129.90" y2="120.00" stroke="#222" stroke-width="0.9"/>
<line x1="126.70" y1="115.80" x2="129.90" y2="115.80" stroke="#222" stroke-width="0.9"/>
<rect x="135.80" y="116.90" width="6.60" height="1.60" fill="#1a1a1a"/>
<line x1="139.10" y1="115.60" x2="139.10" y2="120.20" stroke="#222" stroke-width="1.0"/>
<line x1="137.50" y1="120.00" x2="140.70" y2="120.00" stroke="#222" stroke-width="0.9"/>
<line x1="137.50" y1="115.80" x2="140.70" y2="115.80" stroke="#222" stroke-width="0.9"/>
<text x="7.20" y="161.30" font-size="11.2" text-anchor="start" font-weight="bold" fill="#000" dominant-baseline="central" style="stroke:#000;stroke-width:0.3px">B</text>
<line x1="49.00" y1="166.00" x2="49.00" y2="265.00" stroke="#000" stroke-width="1.3"/>
<line x1="46.00" y1="167.76" x2="49.00" y2="167.76" stroke="#111" stroke-width="1.1"/>
<text x="42.60" y="167.96" font-size="6.6" text-anchor="end" fill="#222" dominant-baseline="central">800</text>
<line x1="46.00" y1="187.02" x2="49.00" y2="187.02" stroke="#111" stroke-width="1.1"/>
<text x="42.60" y="187.22" font-size="6.6" text-anchor="end" fill="#222" dominant-baseline="central">600</text>
<line x1="46.00" y1="206.28" x2="49.00" y2="206.28" stroke="#111" stroke-width="1.1"/>
<text x="42.60" y="206.48" font-size="6.6" text-anchor="end" fill="#222" dominant-baseline="central">400</text>
<line x1="46.00" y1="225.54" x2="49.00" y2="225.54" stroke="#111" stroke-width="1.1"/>
<text x="42.60" y="225.74" font-size="6.6" text-anchor="end" fill="#222" dominant-baseline="central">200</text>
<line x1="46.00" y1="244.80" x2="49.00" y2="244.80" stroke="#111" stroke-width="1.1"/>
<text x="42.60" y="245.00" font-size="6.6" text-anchor="end" fill="#222" dominant-baseline="central">0</text>
<line x1="46.00" y1="264.06" x2="49.00" y2="264.06" stroke="#111" stroke-width="1.1"/>
<text x="42.60" y="264.26" font-size="6.6" text-anchor="end" fill="#222" dominant-baseline="central">-200</text>
<line x1="49.00" y1="244.80" x2="191.50" y2="244.80" stroke="#111" stroke-width="1.0"/>
<line x1="51.80" y1="180.60" x2="118.10" y2="180.60" stroke="#111" stroke-width="1.1"/>
<line x1="124.50" y1="180.60" x2="191.10" y2="180.60" stroke="#111" stroke-width="1.1"/>
<text x="85.20" y="167.60" font-size="6.2" text-anchor="middle" fill="#222" textLength="39.5" lengthAdjust="spacingAndGlyphs" dominant-baseline="central">100 nM Idelalisib</text>
<text x="157.70" y="168.00" font-size="6.2" text-anchor="middle" fill="#222" textLength="39.5" lengthAdjust="spacingAndGlyphs" dominant-baseline="central">100 nM Idelalisib</text>
<text x="157.70" y="174.60" font-size="6.2" text-anchor="middle" fill="#222" textLength="33" lengthAdjust="spacingAndGlyphs" dominant-baseline="central">+ 3 μM VIPhyb</text>
<text x="20.80" y="216.20" font-size="8.0" text-anchor="middle" font-weight="bold" fill="#222" textLength="62.6" lengthAdjust="spacingAndGlyphs" transform="rotate(-90 20.80 216.20)" dominant-baseline="central">% increase over control</text>
<rect x="51.20" y="189.40" width="4.80" height="55.40" fill="#a8002e"/>
<text x="53.60" y="263.80" font-size="6.2" text-anchor="middle" fill="#222" dominant-baseline="central">1</text>
<rect x="57.80" y="222.20" width="4.80" height="22.60" fill="#a8002e"/>
<text x="60.20" y="263.80" font-size="6.2" text-anchor="middle" fill="#222" dominant-baseline="central">2</text>
<rect x="64.40" y="231.30" width="4.80" height="13.50" fill="#a8002e"/>
<text x="66.80" y="263.80" font-size="6.2" text-anchor="middle" fill="#222" dominant-baseline="central">3</text>
<rect x="71.00" y="234.50" width="4.80" height="10.30" fill="#a8002e"/>
<text x="73.40" y="263.80" font-size="6.2" text-anchor="middle" fill="#222" dominant-baseline="central">4</text>
<rect x="77.60" y="236.60" width="4.80" height="8.20" fill="#a8002e"/>
<text x="80.00" y="263.80" font-size="6.2" text-anchor="middle" fill="#222" dominant-baseline="central">5</text>
<rect x="84.20" y="237.70" width="4.80" height="7.10" fill="#a8002e"/>
<text x="86.60" y="263.80" font-size="6.2" text-anchor="middle" fill="#222" dominant-baseline="central">6</text>
<rect x="90.80" y="238.00" width="4.80" height="6.80" fill="#a8002e"/>
<text x="93.20" y="263.80" font-size="6.2" text-anchor="middle" fill="#222" dominant-baseline="central">7</text>
<rect x="97.40" y="239.40" width="4.80" height="5.40" fill="#a8002e"/>
<text x="99.80" y="263.80" font-size="6.2" text-anchor="middle" fill="#222" dominant-baseline="central">8</text>
<rect x="104.00" y="244.20" width="4.80" height="0.60" fill="#a8002e"/>
<text x="106.40" y="263.80" font-size="6.2" text-anchor="middle" fill="#222" dominant-baseline="central">9</text>
<rect x="110.60" y="244.80" width="4.80" height="3.60" fill="#a8002e"/>
<text x="113.00" y="263.80" font-size="6.2" text-anchor="middle" fill="#222" dominant-baseline="central">10</text>
<rect x="123.80" y="192.70" width="4.80" height="52.10" fill="#2a4585"/>
<text x="126.20" y="263.80" font-size="6.2" text-anchor="middle" fill="#222" dominant-baseline="central">1</text>
<rect x="130.52" y="231.00" width="4.80" height="13.80" fill="#2a4585"/>
<text x="132.92" y="263.80" font-size="6.2" text-anchor="middle" fill="#222" dominant-baseline="central">4</text>
<rect x="137.24" y="231.70" width="4.80" height="13.10" fill="#2a4585"/>
<text x="139.64" y="263.80" font-size="6.2" text-anchor="middle" fill="#222" dominant-baseline="central">2</text>
<rect x="143.96" y="233.00" width="4.80" height="11.80" fill="#2a4585"/>
<text x="146.36" y="263.80" font-size="6.2" text-anchor="middle" fill="#222" dominant-baseline="central">3</text>
<rect x="150.68" y="236.00" width="4.80" height="8.80" fill="#2a4585"/>
<text x="153.08" y="263.80" font-size="6.2" text-anchor="middle" fill="#222" dominant-baseline="central">6</text>
<rect x="157.40" y="239.30" width="4.80" height="5.50" fill="#2a4585"/>
<text x="159.80" y="263.80" font-size="6.2" text-anchor="middle" fill="#222" dominant-baseline="central">7</text>
<rect x="164.12" y="241.00" width="4.80" height="3.80" fill="#2a4585"/>
<text x="166.52" y="263.80" font-size="6.2" text-anchor="middle" fill="#222" dominant-baseline="central">5</text>
<rect x="170.84" y="244.00" width="4.80" height="0.80" fill="#2a4585"/>
<text x="173.24" y="263.80" font-size="6.2" text-anchor="middle" fill="#222" dominant-baseline="central">8</text>
<rect x="177.56" y="244.40" width="4.80" height="0.40" fill="#2a4585"/>
<text x="179.96" y="263.80" font-size="6.2" text-anchor="middle" fill="#222" dominant-baseline="central">10</text>
<rect x="184.28" y="244.80" width="4.80" height="2.50" fill="#2a4585"/>
<text x="186.68" y="263.80" font-size="6.2" text-anchor="middle" fill="#222" dominant-baseline="central">9</text>
<text x="7.00" y="477.40" font-size="11.2" text-anchor="start" font-weight="bold" fill="#000" dominant-baseline="central" style="stroke:#000;stroke-width:0.3px">D</text>
<line x1="48.10" y1="500.15" x2="48.10" y2="574.90" stroke="#000" stroke-width="1.4"/>
<line x1="45.10" y1="574.40" x2="48.10" y2="574.40" stroke="#111" stroke-width="1.1"/>
<text x="42.10" y="574.60" font-size="6.6" text-anchor="end" fill="#222" dominant-baseline="central">0</text>
<line x1="45.10" y1="560.25" x2="48.10" y2="560.25" stroke="#111" stroke-width="1.1"/>
<text x="42.10" y="560.45" font-size="6.6" text-anchor="end" fill="#222" dominant-baseline="central">20</text>
<line x1="45.10" y1="546.10" x2="48.10" y2="546.10" stroke="#111" stroke-width="1.1"/>
<text x="42.10" y="546.30" font-size="6.6" text-anchor="end" fill="#222" dominant-baseline="central">40</text>
<line x1="45.10" y1="531.95" x2="48.10" y2="531.95" stroke="#111" stroke-width="1.1"/>
<text x="42.10" y="532.15" font-size="6.6" text-anchor="end" fill="#222" dominant-baseline="central">60</text>
<line x1="45.10" y1="517.80" x2="48.10" y2="517.80" stroke="#111" stroke-width="1.1"/>
<text x="42.10" y="518.00" font-size="6.6" text-anchor="end" fill="#222" dominant-baseline="central">80</text>
<line x1="45.10" y1="503.65" x2="48.10" y2="503.65" stroke="#111" stroke-width="1.1"/>
<text x="42.10" y="503.85" font-size="6.6" text-anchor="end" fill="#222" dominant-baseline="central">100</text>
<line x1="47.40" y1="574.40" x2="154.50" y2="574.40" stroke="#000" stroke-width="1.4"/>
<line x1="61.90" y1="555.80" x2="61.90" y2="547.00" stroke="#222" stroke-width="1.2"/>
<line x1="57.90" y1="547.00" x2="65.90" y2="547.00" stroke="#222" stroke-width="1.3"/>
<rect x="53.00" y="555.80" width="17.80" height="18.60" fill="#c8002a"/>
<line x1="61.90" y1="574.40" x2="61.90" y2="577.40" stroke="#111" stroke-width="1.1"/>
<line x1="88.30" y1="541.00" x2="88.30" y2="533.50" stroke="#222" stroke-width="1.2"/>
<line x1="84.30" y1="533.50" x2="92.30" y2="533.50" stroke="#222" stroke-width="1.3"/>
<rect x="79.60" y="541.00" width="17.40" height="33.40" fill="#2d4b87"/>
<line x1="88.30" y1="574.40" x2="88.30" y2="577.40" stroke="#111" stroke-width="1.1"/>
<line x1="115.05" y1="551.80" x2="115.05" y2="539.50" stroke="#222" stroke-width="1.2"/>
<line x1="111.05" y1="539.50" x2="119.05" y2="539.50" stroke="#222" stroke-width="1.3"/>
<rect x="106.30" y="551.80" width="17.50" height="22.60" fill="#69af37"/>
<line x1="115.05" y1="574.40" x2="115.05" y2="577.40" stroke="#111" stroke-width="1.1"/>
<line x1="141.25" y1="536.30" x2="141.25" y2="523.50" stroke="#222" stroke-width="1.2"/>
<line x1="137.25" y1="523.50" x2="145.25" y2="523.50" stroke="#222" stroke-width="1.3"/>
<rect x="132.50" y="536.30" width="17.50" height="38.10" fill="#55236e"/>
<line x1="141.25" y1="574.40" x2="141.25" y2="577.40" stroke="#111" stroke-width="1.1"/>
<text x="101.00" y="484.60" font-size="8.6" text-anchor="middle" textLength="56" lengthAdjust="spacingAndGlyphs" dominant-baseline="central">CD27+CD28+</text>
<text x="23.40" y="538.30" font-size="7.0" text-anchor="middle" font-weight="bold" fill="#222" textLength="56.2" lengthAdjust="spacingAndGlyphs" transform="rotate(-90 23.40 538.30)" dominant-baseline="central">%CD3+CD27+CD28+</text>
<path d="M58.7 511.3 V503.8 H141.4 V511.3" stroke="#222" stroke-width="1.1" fill="none"/>
<path d="M58.7 527.7 V520.5 H88.5 V527.7" stroke="#222" stroke-width="1.1" fill="none"/>
<text x="73.60" y="517.60" font-size="7" text-anchor="middle" fill="#222" dominant-baseline="central">*</text>
<text x="100.50" y="500.90" font-size="7" text-anchor="middle" fill="#222" dominant-baseline="central">**</text>
<line x1="187.10" y1="499.00" x2="187.10" y2="574.90" stroke="#000" stroke-width="1.4"/>
<line x1="184.10" y1="574.40" x2="187.10" y2="574.40" stroke="#111" stroke-width="1.1"/>
<text x="181.10" y="574.60" font-size="6.6" text-anchor="end" fill="#222" dominant-baseline="central">0</text>
<line x1="184.10" y1="560.02" x2="187.10" y2="560.02" stroke="#111" stroke-width="1.1"/>
<text x="181.10" y="560.22" font-size="6.6" text-anchor="end" fill="#222" dominant-baseline="central">10</text>
<line x1="184.10" y1="545.64" x2="187.10" y2="545.64" stroke="#111" stroke-width="1.1"/>
<text x="181.10" y="545.84" font-size="6.6" text-anchor="end" fill="#222" dominant-baseline="central">20</text>
<line x1="184.10" y1="531.26" x2="187.10" y2="531.26" stroke="#111" stroke-width="1.1"/>
<text x="181.10" y="531.46" font-size="6.6" text-anchor="end" fill="#222" dominant-baseline="central">30</text>
<line x1="184.10" y1="516.88" x2="187.10" y2="516.88" stroke="#111" stroke-width="1.1"/>
<text x="181.10" y="517.08" font-size="6.6" text-anchor="end" fill="#222" dominant-baseline="central">40</text>
<line x1="184.10" y1="502.50" x2="187.10" y2="502.50" stroke="#111" stroke-width="1.1"/>
<text x="181.10" y="502.70" font-size="6.6" text-anchor="end" fill="#222" dominant-baseline="central">50</text>
<line x1="186.40" y1="574.40" x2="293.20" y2="574.40" stroke="#000" stroke-width="1.4"/>
<line x1="200.15" y1="552.70" x2="200.15" y2="534.70" stroke="#222" stroke-width="1.2"/>
<line x1="196.15" y1="534.70" x2="204.15" y2="534.70" stroke="#222" stroke-width="1.3"/>
<rect x="191.40" y="552.70" width="17.50" height="21.70" fill="#b8002c"/>
<line x1="200.15" y1="574.40" x2="200.15" y2="577.40" stroke="#111" stroke-width="1.1"/>
<line x1="226.95" y1="570.00" x2="226.95" y2="566.30" stroke="#222" stroke-width="1.2"/>
<line x1="222.95" y1="566.30" x2="230.95" y2="566.30" stroke="#222" stroke-width="1.3"/>
<rect x="218.30" y="570.00" width="17.30" height="4.40" fill="#2d4b87"/>
<line x1="226.95" y1="574.40" x2="226.95" y2="577.40" stroke="#111" stroke-width="1.1"/>
<line x1="253.50" y1="553.80" x2="253.50" y2="536.70" stroke="#222" stroke-width="1.2"/>
<line x1="249.50" y1="536.70" x2="257.50" y2="536.70" stroke="#222" stroke-width="1.3"/>
<rect x="245.00" y="553.80" width="17.00" height="20.60" fill="#69af37"/>
<line x1="253.50" y1="574.40" x2="253.50" y2="577.40" stroke="#111" stroke-width="1.1"/>
<line x1="279.95" y1="570.20" x2="279.95" y2="566.70" stroke="#222" stroke-width="1.2"/>
<line x1="275.95" y1="566.70" x2="283.95" y2="566.70" stroke="#222" stroke-width="1.3"/>
<rect x="271.40" y="570.20" width="17.10" height="4.20" fill="#55236e"/>
<line x1="279.95" y1="574.40" x2="279.95" y2="577.40" stroke="#111" stroke-width="1.1"/>
<text x="239.60" y="485.20" font-size="8.6" text-anchor="middle" textLength="50" lengthAdjust="spacingAndGlyphs" dominant-baseline="central">CD27-CD28-</text>
<text x="165.50" y="537.00" font-size="7.0" text-anchor="middle" font-weight="bold" fill="#222" textLength="54" lengthAdjust="spacingAndGlyphs" transform="rotate(-90 165.50 537.00)" dominant-baseline="central">%CD3+CD27-CD28-</text>
<path d="M200.1 506.0 V499.3 H280.0 V506.0" stroke="#222" stroke-width="1.1" fill="none"/>
<path d="M200.1 520.0 V513.2 H227.0 V520.0" stroke="#222" stroke-width="1.1" fill="none"/>
<path d="M228.5 532.7 V525.2 H280.0 V532.7 M253.5 525.2 V532.7" stroke="#222" stroke-width="1.1" fill="none"/>
<text x="241.00" y="496.40" font-size="7" text-anchor="middle" fill="#222" dominant-baseline="central">*</text>
<text x="214.70" y="510.00" font-size="7" text-anchor="middle" fill="#222" dominant-baseline="central">*</text>
<text x="241.00" y="522.80" font-size="7" text-anchor="middle" fill="#222" dominant-baseline="central">*</text>
<text x="267.40" y="522.80" font-size="7" text-anchor="middle" fill="#222" dominant-baseline="central">*</text>
<g transform="translate(64.50 582.40) rotate(-45)"><text x="0" y="0.00" font-size="6.3" text-anchor="end" dominant-baseline="central" fill="#222" textLength="21.5" lengthAdjust="spacingAndGlyphs">Control</text></g>
<g transform="translate(90.90 582.40) rotate(-45)"><text x="0" y="0.00" font-size="6.3" text-anchor="end" dominant-baseline="central" fill="#222" textLength="49" lengthAdjust="spacingAndGlyphs">100 nM Idelalisib</text></g>
<g transform="translate(117.60 582.40) rotate(-45)"><text x="0" y="0.00" font-size="6.3" text-anchor="end" dominant-baseline="central" fill="#222" textLength="35" lengthAdjust="spacingAndGlyphs">3 uM VIPhyb</text></g>
<g transform="translate(143.80 582.40) rotate(-45)"><text x="0" y="0.00" font-size="6.3" text-anchor="end" dominant-baseline="central" fill="#222" textLength="54" lengthAdjust="spacingAndGlyphs">Idelalisib + VIPhyb</text></g>
<g transform="translate(202.70 582.40) rotate(-45)"><text x="0" y="0.00" font-size="6.3" text-anchor="end" dominant-baseline="central" fill="#222" textLength="21.5" lengthAdjust="spacingAndGlyphs">Control</text></g>
<g transform="translate(229.60 582.40) rotate(-45)"><text x="0" y="0.00" font-size="6.3" text-anchor="end" dominant-baseline="central" fill="#222" textLength="49" lengthAdjust="spacingAndGlyphs">100 nM Idelalisib</text></g>
<g transform="translate(256.10 582.40) rotate(-45)"><text x="0" y="0.00" font-size="6.3" text-anchor="end" dominant-baseline="central" fill="#222" textLength="35" lengthAdjust="spacingAndGlyphs">3 uM VIPhyb</text></g>
<g transform="translate(282.60 582.40) rotate(-45)"><text x="0" y="0.00" font-size="6.3" text-anchor="end" dominant-baseline="central" fill="#222" textLength="54" lengthAdjust="spacingAndGlyphs">Idelalisib + VIPhyb</text></g>
<text x="7.20" y="280.00" font-size="11.2" text-anchor="start" font-weight="bold" fill="#000" dominant-baseline="central" style="stroke:#000;stroke-width:0.3px">C</text>
<text x="79.50" y="288.00" font-size="8.3" text-anchor="middle" textLength="23.5" lengthAdjust="spacingAndGlyphs" dominant-baseline="central">DMSO</text>
<text x="154.40" y="287.70" font-size="8.3" text-anchor="middle" textLength="62.6" lengthAdjust="spacingAndGlyphs" dominant-baseline="central">100 nM Idelalisib</text>
<text x="79.60" y="376.00" font-size="8.3" text-anchor="middle" textLength="47" lengthAdjust="spacingAndGlyphs" dominant-baseline="central">3 μM VIPhyb</text>
<text x="155.10" y="376.00" font-size="8.3" text-anchor="middle" textLength="68.7" lengthAdjust="spacingAndGlyphs" dominant-baseline="central">Idelalisib + VIPhyb</text>
<g filter="url(#fl1)"><polygon points="57.0,322.5 75.0,322.0 74.5,335.0 72.5,349.0 57.0,349.0" fill="rgb(51,51,51)" stroke="rgb(51,51,51)" stroke-width="8.80" stroke-linejoin="round"/><polygon points="57.0,322.5 75.0,322.0 74.5,335.0 72.5,349.0 57.0,349.0" fill="rgb(64,64,64)" stroke="rgb(64,64,64)" stroke-width="6.00" stroke-linejoin="round"/><polygon points="57.0,322.5 75.0,322.0 74.5,335.0 72.5,349.0 57.0,349.0" fill="rgb(84,84,84)" stroke="rgb(84,84,84)" stroke-width="3.80" stroke-linejoin="round"/><polygon points="57.0,322.5 75.0,322.0 74.5,335.0 72.5,349.0 57.0,349.0" fill="rgb(107,107,107)" stroke="rgb(107,107,107)" stroke-width="2.00" stroke-linejoin="round"/><polygon points="57.0,322.5 75.0,322.0 74.5,335.0 72.5,349.0 57.0,349.0" fill="rgb(143,143,143)" stroke="rgb(143,143,143)" stroke-width="0.00" stroke-linejoin="round"/><ellipse cx="67.00" cy="329.00" rx="9.00" ry="12.00" transform="rotate(0 67.00 329.00)" fill="url(#rgw)" opacity="0.180"/><ellipse cx="67.50" cy="326.20" rx="7.50" ry="4.20" transform="rotate(0 67.50 326.20)" fill="url(#rgw)" opacity="0.600"/><ellipse cx="67.80" cy="326.20" rx="3.60" ry="2.20" transform="rotate(0 67.80 326.20)" fill="url(#rgw)" opacity="0.900"/></g>
<line x1="63.40" y1="296.30" x2="63.40" y2="354.80" stroke="#555" stroke-width="0.8"/>
<line x1="49.80" y1="334.70" x2="109.20" y2="334.70" stroke="#555" stroke-width="0.8"/>
<rect x="49.80" y="296.30" width="59.40" height="58.50" fill="none" stroke="#999" stroke-width="0.7"/>
<text x="50.80" y="298.60" font-size="4.3" text-anchor="start" font-weight="bold" textLength="7.223999999999999" lengthAdjust="spacingAndGlyphs" dominant-baseline="central">26.6</text>
<text x="108.40" y="298.60" font-size="4.3" text-anchor="end" font-weight="bold" textLength="7.223999999999999" lengthAdjust="spacingAndGlyphs" dominant-baseline="central">34.4</text>
<text x="50.80" y="352.60" font-size="4.3" text-anchor="start" font-weight="bold" textLength="7.223999999999999" lengthAdjust="spacingAndGlyphs" dominant-baseline="central">26.1</text>
<text x="108.40" y="352.60" font-size="4.3" text-anchor="end" font-weight="bold" textLength="3.6119999999999997" lengthAdjust="spacingAndGlyphs" dominant-baseline="central">15</text>
<text x="47.20" y="302.50" font-size="5.9" text-anchor="end" dominant-baseline="central" fill="#222">10<tspan font-size="4.01" dy="-2.36" font-weight="bold">5</tspan></text>
<line x1="48.00" y1="301.70" x2="49.80" y2="301.70" stroke="#444" stroke-width="0.8"/>
<text x="47.20" y="316.30" font-size="5.9" text-anchor="end" dominant-baseline="central" fill="#222">10<tspan font-size="4.01" dy="-2.36" font-weight="bold">4</tspan></text>
<line x1="48.00" y1="315.50" x2="49.80" y2="315.50" stroke="#444" stroke-width="0.8"/>
<text x="47.20" y="329.60" font-size="5.9" text-anchor="end" dominant-baseline="central" fill="#222">10<tspan font-size="4.01" dy="-2.36" font-weight="bold">3</tspan></text>
<line x1="48.00" y1="328.80" x2="49.80" y2="328.80" stroke="#444" stroke-width="0.8"/>
<text x="47.20" y="342.80" font-size="5.9" text-anchor="end" dominant-baseline="central" fill="#222">10<tspan font-size="4.01" dy="-2.36" font-weight="bold">2</tspan></text>
<line x1="48.00" y1="342.00" x2="49.80" y2="342.00" stroke="#444" stroke-width="0.8"/>
<text x="44.80" y="348.30" font-size="6.2" text-anchor="end" fill="#222" dominant-baseline="central">0</text>
<line x1="48.00" y1="347.90" x2="49.80" y2="347.90" stroke="#444" stroke-width="0.8"/>
<text x="54.70" y="360.80" font-size="6.2" text-anchor="middle" fill="#222" dominant-baseline="central">0</text>
<text x="62.50" y="361.20" font-size="6.2" text-anchor="middle" dominant-baseline="central" fill="#222">10<tspan font-size="4.22" dy="-2.48" font-weight="bold">2</tspan></text>
<line x1="60.70" y1="354.80" x2="60.70" y2="356.40" stroke="#444" stroke-width="0.8"/>
<text x="76.10" y="361.20" font-size="6.2" text-anchor="middle" dominant-baseline="central" fill="#222">10<tspan font-size="4.22" dy="-2.48" font-weight="bold">3</tspan></text>
<line x1="74.30" y1="354.80" x2="74.30" y2="356.40" stroke="#444" stroke-width="0.8"/>
<text x="91.00" y="361.20" font-size="6.2" text-anchor="middle" dominant-baseline="central" fill="#222">10<tspan font-size="4.22" dy="-2.48" font-weight="bold">4</tspan></text>
<line x1="89.20" y1="354.80" x2="89.20" y2="356.40" stroke="#444" stroke-width="0.8"/>
<text x="104.80" y="361.20" font-size="6.2" text-anchor="middle" dominant-baseline="central" fill="#222">10<tspan font-size="4.22" dy="-2.48" font-weight="bold">5</tspan></text>
<line x1="103.00" y1="354.80" x2="103.00" y2="356.40" stroke="#444" stroke-width="0.8"/>
<g filter="url(#fl2)"><polygon points="133.0,323.0 140.0,322.0 140.0,352.0 133.0,351.0" fill="rgb(48,48,48)" stroke="rgb(48,48,48)" stroke-width="7.20" stroke-linejoin="round"/><polygon points="133.0,323.0 140.0,322.0 140.0,352.0 133.0,351.0" fill="rgb(61,61,61)" stroke="rgb(61,61,61)" stroke-width="4.40" stroke-linejoin="round"/><polygon points="144.0,324.0 152.5,323.5 152.5,336.0 151.0,348.0 144.5,348.0" fill="rgb(51,51,51)" stroke="rgb(51,51,51)" stroke-width="8.80" stroke-linejoin="round"/><polygon points="144.0,324.0 152.5,323.5 152.5,336.0 151.0,348.0 144.5,348.0" fill="rgb(64,64,64)" stroke="rgb(64,64,64)" stroke-width="6.00" stroke-linejoin="round"/><polygon points="144.0,324.0 152.5,323.5 152.5,336.0 151.0,348.0 144.5,348.0" fill="rgb(84,84,84)" stroke="rgb(84,84,84)" stroke-width="3.80" stroke-linejoin="round"/><polygon points="144.0,324.0 152.5,323.5 152.5,336.0 151.0,348.0 144.5,348.0" fill="rgb(107,107,107)" stroke="rgb(107,107,107)" stroke-width="2.00" stroke-linejoin="round"/><polygon points="144.0,324.0 152.5,323.5 152.5,336.0 151.0,348.0 144.5,348.0" fill="rgb(143,143,143)" stroke="rgb(143,143,143)" stroke-width="0.00" stroke-linejoin="round"/><ellipse cx="148.30" cy="329.00" rx="5.50" ry="7.00" transform="rotate(0 148.30 329.00)" fill="url(#rgw)" opacity="0.620"/><ellipse cx="148.30" cy="329.00" rx="2.80" ry="3.60" transform="rotate(0 148.30 329.00)" fill="url(#rgw)" opacity="0.900"/></g>
<line x1="139.80" y1="297.20" x2="139.80" y2="355.00" stroke="#555" stroke-width="0.8"/>
<line x1="125.70" y1="335.30" x2="183.60" y2="335.30" stroke="#555" stroke-width="0.8"/>
<rect x="125.70" y="297.20" width="57.90" height="57.80" fill="none" stroke="#999" stroke-width="0.7"/>
<text x="126.70" y="299.50" font-size="4.3" text-anchor="start" font-weight="bold" textLength="7.223999999999999" lengthAdjust="spacingAndGlyphs" dominant-baseline="central">5.32</text>
<text x="182.80" y="299.50" font-size="4.3" text-anchor="end" font-weight="bold" textLength="7.223999999999999" lengthAdjust="spacingAndGlyphs" dominant-baseline="central">63.1</text>
<text x="126.70" y="352.80" font-size="4.3" text-anchor="start" font-weight="bold" textLength="7.223999999999999" lengthAdjust="spacingAndGlyphs" dominant-baseline="central">3.82</text>
<text x="182.80" y="352.80" font-size="4.3" text-anchor="end" font-weight="bold" textLength="7.223999999999999" lengthAdjust="spacingAndGlyphs" dominant-baseline="central">27.6</text>
<text x="123.10" y="303.40" font-size="5.9" text-anchor="end" dominant-baseline="central" fill="#222">10<tspan font-size="4.01" dy="-2.36" font-weight="bold">5</tspan></text>
<line x1="123.90" y1="302.60" x2="125.70" y2="302.60" stroke="#444" stroke-width="0.8"/>
<text x="123.10" y="317.20" font-size="5.9" text-anchor="end" dominant-baseline="central" fill="#222">10<tspan font-size="4.01" dy="-2.36" font-weight="bold">4</tspan></text>
<line x1="123.90" y1="316.40" x2="125.70" y2="316.40" stroke="#444" stroke-width="0.8"/>
<text x="123.10" y="330.50" font-size="5.9" text-anchor="end" dominant-baseline="central" fill="#222">10<tspan font-size="4.01" dy="-2.36" font-weight="bold">3</tspan></text>
<line x1="123.90" y1="329.70" x2="125.70" y2="329.70" stroke="#444" stroke-width="0.8"/>
<text x="123.10" y="343.70" font-size="5.9" text-anchor="end" dominant-baseline="central" fill="#222">10<tspan font-size="4.01" dy="-2.36" font-weight="bold">2</tspan></text>
<line x1="123.90" y1="342.90" x2="125.70" y2="342.90" stroke="#444" stroke-width="0.8"/>
<text x="120.70" y="349.20" font-size="6.2" text-anchor="end" fill="#222" dominant-baseline="central">0</text>
<line x1="123.90" y1="348.80" x2="125.70" y2="348.80" stroke="#444" stroke-width="0.8"/>
<text x="130.60" y="361.00" font-size="6.2" text-anchor="middle" fill="#222" dominant-baseline="central">0</text>
<text x="138.40" y="361.40" font-size="6.2" text-anchor="middle" dominant-baseline="central" fill="#222">10<tspan font-size="4.22" dy="-2.48" font-weight="bold">2</tspan></text>
<line x1="136.60" y1="355.00" x2="136.60" y2="356.60" stroke="#444" stroke-width="0.8"/>
<text x="152.00" y="361.40" font-size="6.2" text-anchor="middle" dominant-baseline="central" fill="#222">10<tspan font-size="4.22" dy="-2.48" font-weight="bold">3</tspan></text>
<line x1="150.20" y1="355.00" x2="150.20" y2="356.60" stroke="#444" stroke-width="0.8"/>
<text x="166.90" y="361.40" font-size="6.2" text-anchor="middle" dominant-baseline="central" fill="#222">10<tspan font-size="4.22" dy="-2.48" font-weight="bold">4</tspan></text>
<line x1="165.10" y1="355.00" x2="165.10" y2="356.60" stroke="#444" stroke-width="0.8"/>
<text x="180.70" y="361.40" font-size="6.2" text-anchor="middle" dominant-baseline="central" fill="#222">10<tspan font-size="4.22" dy="-2.48" font-weight="bold">5</tspan></text>
<line x1="178.90" y1="355.00" x2="178.90" y2="356.60" stroke="#444" stroke-width="0.8"/>
<g filter="url(#fl3)"><polygon points="54.0,412.0 77.0,411.0 76.5,432.0 75.5,442.0 55.0,442.0" fill="rgb(42,42,42)" stroke="rgb(42,42,42)" stroke-width="2" stroke-linejoin="round"/><polygon points="57.0,408.0 74.0,407.5 73.0,417.5 58.0,417.5" fill="rgb(51,51,51)" stroke="rgb(51,51,51)" stroke-width="8.80" stroke-linejoin="round"/><polygon points="57.0,408.0 74.0,407.5 73.0,417.5 58.0,417.5" fill="rgb(64,64,64)" stroke="rgb(64,64,64)" stroke-width="6.00" stroke-linejoin="round"/><polygon points="57.0,408.0 74.0,407.5 73.0,417.5 58.0,417.5" fill="rgb(84,84,84)" stroke="rgb(84,84,84)" stroke-width="3.80" stroke-linejoin="round"/><polygon points="57.0,408.0 74.0,407.5 73.0,417.5 58.0,417.5" fill="rgb(107,107,107)" stroke="rgb(107,107,107)" stroke-width="2.00" stroke-linejoin="round"/><polygon points="57.0,408.0 74.0,407.5 73.0,417.5 58.0,417.5" fill="rgb(143,143,143)" stroke="rgb(143,143,143)" stroke-width="0.00" stroke-linejoin="round"/><ellipse cx="66.50" cy="410.50" rx="10.00" ry="3.60" transform="rotate(0 66.50 410.50)" fill="url(#rgw)" opacity="0.550"/><ellipse cx="66.80" cy="410.30" rx="4.20" ry="1.80" transform="rotate(0 66.80 410.30)" fill="url(#rgw)" opacity="0.900"/></g>
<line x1="63.40" y1="384.60" x2="63.40" y2="443.30" stroke="#555" stroke-width="0.8"/>
<line x1="49.80" y1="423.00" x2="108.60" y2="423.00" stroke="#555" stroke-width="0.8"/>
<rect x="49.80" y="384.60" width="58.80" height="58.70" fill="none" stroke="#999" stroke-width="0.7"/>
<text x="50.80" y="386.90" font-size="4.3" text-anchor="start" font-weight="bold" textLength="7.223999999999999" lengthAdjust="spacingAndGlyphs" dominant-baseline="central">26.8</text>
<text x="107.80" y="386.90" font-size="4.3" text-anchor="end" font-weight="bold" textLength="7.223999999999999" lengthAdjust="spacingAndGlyphs" dominant-baseline="central">52.6</text>
<text x="50.80" y="441.10" font-size="4.3" text-anchor="start" font-weight="bold" textLength="7.223999999999999" lengthAdjust="spacingAndGlyphs" dominant-baseline="central">7.46</text>
<text x="107.80" y="441.10" font-size="4.3" text-anchor="end" font-weight="bold" textLength="7.223999999999999" lengthAdjust="spacingAndGlyphs" dominant-baseline="central">4.65</text>
<text x="47.20" y="390.80" font-size="5.9" text-anchor="end" dominant-baseline="central" fill="#222">10<tspan font-size="4.01" dy="-2.36" font-weight="bold">5</tspan></text>
<line x1="48.00" y1="390.00" x2="49.80" y2="390.00" stroke="#444" stroke-width="0.8"/>
<text x="47.20" y="404.60" font-size="5.9" text-anchor="end" dominant-baseline="central" fill="#222">10<tspan font-size="4.01" dy="-2.36" font-weight="bold">4</tspan></text>
<line x1="48.00" y1="403.80" x2="49.80" y2="403.80" stroke="#444" stroke-width="0.8"/>
<text x="47.20" y="417.90" font-size="5.9" text-anchor="end" dominant-baseline="central" fill="#222">10<tspan font-size="4.01" dy="-2.36" font-weight="bold">3</tspan></text>
<line x1="48.00" y1="417.10" x2="49.80" y2="417.10" stroke="#444" stroke-width="0.8"/>
<text x="47.20" y="431.10" font-size="5.9" text-anchor="end" dominant-baseline="central" fill="#222">10<tspan font-size="4.01" dy="-2.36" font-weight="bold">2</tspan></text>
<line x1="48.00" y1="430.30" x2="49.80" y2="430.30" stroke="#444" stroke-width="0.8"/>
<text x="44.80" y="436.60" font-size="6.2" text-anchor="end" fill="#222" dominant-baseline="central">0</text>
<line x1="48.00" y1="436.20" x2="49.80" y2="436.20" stroke="#444" stroke-width="0.8"/>
<text x="54.70" y="449.30" font-size="6.2" text-anchor="middle" fill="#222" dominant-baseline="central">0</text>
<text x="62.50" y="449.70" font-size="6.2" text-anchor="middle" dominant-baseline="central" fill="#222">10<tspan font-size="4.22" dy="-2.48" font-weight="bold">2</tspan></text>
<line x1="60.70" y1="443.30" x2="60.70" y2="444.90" stroke="#444" stroke-width="0.8"/>
<text x="76.10" y="449.70" font-size="6.2" text-anchor="middle" dominant-baseline="central" fill="#222">10<tspan font-size="4.22" dy="-2.48" font-weight="bold">3</tspan></text>
<line x1="74.30" y1="443.30" x2="74.30" y2="444.90" stroke="#444" stroke-width="0.8"/>
<text x="91.00" y="449.70" font-size="6.2" text-anchor="middle" dominant-baseline="central" fill="#222">10<tspan font-size="4.22" dy="-2.48" font-weight="bold">4</tspan></text>
<line x1="89.20" y1="443.30" x2="89.20" y2="444.90" stroke="#444" stroke-width="0.8"/>
<text x="104.80" y="449.70" font-size="6.2" text-anchor="middle" dominant-baseline="central" fill="#222">10<tspan font-size="4.22" dy="-2.48" font-weight="bold">5</tspan></text>
<line x1="103.00" y1="443.30" x2="103.00" y2="444.90" stroke="#444" stroke-width="0.8"/>
<g filter="url(#fl4)"><polygon points="129.5,421.0 156.0,421.0 155.5,442.0 130.5,442.0" fill="rgb(43,43,43)" stroke="rgb(43,43,43)" stroke-width="2" stroke-linejoin="round"/><ellipse cx="151.50" cy="429.00" rx="3.20" ry="7.00" transform="rotate(0 151.50 429.00)" fill="url(#rgw)" opacity="0.260"/><polygon points="133.0,413.0 140.0,408.5 153.5,407.0 152.5,415.0 149.5,420.5 135.0,420.5" fill="rgb(51,51,51)" stroke="rgb(51,51,51)" stroke-width="8.80" stroke-linejoin="round"/><polygon points="133.0,413.0 140.0,408.5 153.5,407.0 152.5,415.0 149.5,420.5 135.0,420.5" fill="rgb(64,64,64)" stroke="rgb(64,64,64)" stroke-width="6.00" stroke-linejoin="round"/><polygon points="133.0,413.0 140.0,408.5 153.5,407.0 152.5,415.0 149.5,420.5 135.0,420.5" fill="rgb(84,84,84)" stroke="rgb(84,84,84)" stroke-width="3.80" stroke-linejoin="round"/><polygon points="133.0,413.0 140.0,408.5 153.5,407.0 152.5,415.0 149.5,420.5 135.0,420.5" fill="rgb(107,107,107)" stroke="rgb(107,107,107)" stroke-width="2.00" stroke-linejoin="round"/><polygon points="133.0,413.0 140.0,408.5 153.5,407.0 152.5,415.0 149.5,420.5 135.0,420.5" fill="rgb(143,143,143)" stroke="rgb(143,143,143)" stroke-width="0.00" stroke-linejoin="round"/><ellipse cx="148.00" cy="411.80" rx="5.80" ry="4.50" transform="rotate(0 148.00 411.80)" fill="url(#rgw)" opacity="0.620"/><ellipse cx="148.00" cy="411.60" rx="2.80" ry="2.30" transform="rotate(0 148.00 411.60)" fill="url(#rgw)" opacity="0.900"/></g>
<line x1="139.90" y1="384.60" x2="139.90" y2="443.10" stroke="#555" stroke-width="0.8"/>
<line x1="125.70" y1="423.10" x2="183.60" y2="423.10" stroke="#555" stroke-width="0.8"/>
<rect x="125.70" y="384.60" width="57.90" height="58.50" fill="none" stroke="#999" stroke-width="0.7"/>
<text x="126.70" y="386.90" font-size="4.3" text-anchor="start" font-weight="bold" textLength="7.223999999999999" lengthAdjust="spacingAndGlyphs" dominant-baseline="central">14.8</text>
<text x="182.80" y="386.90" font-size="4.3" text-anchor="end" font-weight="bold" textLength="7.223999999999999" lengthAdjust="spacingAndGlyphs" dominant-baseline="central">73.1</text>
<text x="126.70" y="440.90" font-size="4.3" text-anchor="start" font-weight="bold" textLength="7.223999999999999" lengthAdjust="spacingAndGlyphs" dominant-baseline="central">2.17</text>
<text x="182.80" y="440.90" font-size="4.3" text-anchor="end" font-weight="bold" textLength="7.223999999999999" lengthAdjust="spacingAndGlyphs" dominant-baseline="central">9.86</text>
<text x="123.10" y="390.80" font-size="5.9" text-anchor="end" dominant-baseline="central" fill="#222">10<tspan font-size="4.01" dy="-2.36" font-weight="bold">5</tspan></text>
<line x1="123.90" y1="390.00" x2="125.70" y2="390.00" stroke="#444" stroke-width="0.8"/>
<text x="123.10" y="404.60" font-size="5.9" text-anchor="end" dominant-baseline="central" fill="#222">10<tspan font-size="4.01" dy="-2.36" font-weight="bold">4</tspan></text>
<line x1="123.90" y1="403.80" x2="125.70" y2="403.80" stroke="#444" stroke-width="0.8"/>
<text x="123.10" y="417.90" font-size="5.9" text-anchor="end" dominant-baseline="central" fill="#222">10<tspan font-size="4.01" dy="-2.36" font-weight="bold">3</tspan></text>
<line x1="123.90" y1="417.10" x2="125.70" y2="417.10" stroke="#444" stroke-width="0.8"/>
<text x="123.10" y="431.10" font-size="5.9" text-anchor="end" dominant-baseline="central" fill="#222">10<tspan font-size="4.01" dy="-2.36" font-weight="bold">2</tspan></text>
<line x1="123.90" y1="430.30" x2="125.70" y2="430.30" stroke="#444" stroke-width="0.8"/>
<text x="120.70" y="436.60" font-size="6.2" text-anchor="end" fill="#222" dominant-baseline="central">0</text>
<line x1="123.90" y1="436.20" x2="125.70" y2="436.20" stroke="#444" stroke-width="0.8"/>
<text x="130.60" y="449.10" font-size="6.2" text-anchor="middle" fill="#222" dominant-baseline="central">0</text>
<text x="138.40" y="449.50" font-size="6.2" text-anchor="middle" dominant-baseline="central" fill="#222">10<tspan font-size="4.22" dy="-2.48" font-weight="bold">2</tspan></text>
<line x1="136.60" y1="443.10" x2="136.60" y2="444.70" stroke="#444" stroke-width="0.8"/>
<text x="152.00" y="449.50" font-size="6.2" text-anchor="middle" dominant-baseline="central" fill="#222">10<tspan font-size="4.22" dy="-2.48" font-weight="bold">3</tspan></text>
<line x1="150.20" y1="443.10" x2="150.20" y2="444.70" stroke="#444" stroke-width="0.8"/>
<text x="166.90" y="449.50" font-size="6.2" text-anchor="middle" dominant-baseline="central" fill="#222">10<tspan font-size="4.22" dy="-2.48" font-weight="bold">4</tspan></text>
<line x1="165.10" y1="443.10" x2="165.10" y2="444.70" stroke="#444" stroke-width="0.8"/>
<text x="180.70" y="449.50" font-size="6.2" text-anchor="middle" dominant-baseline="central" fill="#222">10<tspan font-size="4.22" dy="-2.48" font-weight="bold">5</tspan></text>
<line x1="178.90" y1="443.10" x2="178.90" y2="444.70" stroke="#444" stroke-width="0.8"/>
<line x1="30.60" y1="302.50" x2="30.60" y2="427.20" stroke="#111" stroke-width="1.1"/>
<path d="M30.6 298.8 L28.3 304.0 L32.9 304.0 Z" stroke="#111" stroke-width="0.1" fill="#111"/>
<text x="30.10" y="436.90" font-size="8.2" text-anchor="middle" font-weight="bold" fill="#222" textLength="13.5" lengthAdjust="spacingAndGlyphs" transform="rotate(-90 30.10 436.90)" dominant-baseline="central">CD27</text>
<line x1="57.00" y1="460.20" x2="178.50" y2="460.20" stroke="#111" stroke-width="1.1"/>
<path d="M182.5 460.2 L177.0 457.9 L177.0 462.5 Z" stroke="#111" stroke-width="0.1" fill="#111"/>
<text x="47.20" y="459.90" font-size="8.2" text-anchor="middle" font-weight="bold" fill="#222" textLength="13.9" lengthAdjust="spacingAndGlyphs" dominant-baseline="central">CD28</text>
<text x="204.60" y="13.30" font-size="11.2" text-anchor="start" font-weight="bold" fill="#000" dominant-baseline="central" style="stroke:#000;stroke-width:0.3px">E</text>
<text x="254.20" y="33.80" font-size="8.6" text-anchor="middle" textLength="23" lengthAdjust="spacingAndGlyphs" dominant-baseline="central">DMSO</text>
<text x="325.20" y="23.80" font-size="8.5" text-anchor="middle" dominant-baseline="central">100 nM</text>
<text x="325.00" y="33.90" font-size="8.5" text-anchor="middle" dominant-baseline="central">idelalisib</text>
<text x="396.30" y="23.40" font-size="8.5" text-anchor="middle" dominant-baseline="central">3 μM</text>
<text x="396.30" y="34.00" font-size="8.5" text-anchor="middle" dominant-baseline="central">VIPhyb</text>
<text x="464.80" y="24.00" font-size="8.5" text-anchor="middle" dominant-baseline="central">Idelalisib +</text>
<text x="464.70" y="34.30" font-size="8.5" text-anchor="middle" dominant-baseline="central">VIPhyb</text>
<text x="494.80" y="70.40" font-size="8.6" text-anchor="start" dominant-baseline="central">CD4</text>
<text x="494.80" y="138.60" font-size="8.6" text-anchor="start" dominant-baseline="central">CD8</text>
<g filter="url(#fl5)"><polygon points="239.0,46.0 255.0,45.0 258.0,49.0 261.0,45.0 278.0,44.0 279.0,60.0 278.0,76.0 277.0,90.0 268.0,94.0 258.0,91.0 250.0,93.0 241.0,91.0 238.0,78.0 238.0,62.0" fill="rgb(26,26,26)" stroke="rgb(26,26,26)" stroke-width="2" stroke-linejoin="round"/><polygon points="241.0,49.0 254.0,48.0 257.0,53.0 263.0,48.0 276.0,47.0 276.0,62.0 275.0,80.0 267.0,88.0 258.0,84.0 251.0,88.0 243.0,86.0 240.0,75.0 240.0,60.0" fill="rgb(51,51,51)" stroke="rgb(51,51,51)" stroke-width="2" stroke-linejoin="round"/><ellipse cx="248.60" cy="55.00" rx="9.00" ry="11.00" transform="rotate(0 248.60 55.00)" fill="url(#rgw)" opacity="0.550"/><ellipse cx="248.60" cy="55.00" rx="4.50" ry="5.50" transform="rotate(0 248.60 55.00)" fill="url(#rgw)" opacity="0.500"/><ellipse cx="267.50" cy="56.50" rx="15.00" ry="9.50" transform="rotate(-35 267.50 56.50)" fill="url(#rgw)" opacity="0.550"/><ellipse cx="268.80" cy="55.50" rx="8.00" ry="4.50" transform="rotate(-35 268.80 55.50)" fill="url(#rgw)" opacity="0.750"/><ellipse cx="269.20" cy="55.00" rx="3.50" ry="2.20" transform="rotate(-35 269.20 55.00)" fill="url(#rgw)" opacity="0.900"/><ellipse cx="245.80" cy="75.50" rx="6.50" ry="13.00" transform="rotate(5 245.80 75.50)" fill="url(#rgw)" opacity="0.550"/><ellipse cx="245.80" cy="75.50" rx="3.00" ry="7.00" transform="rotate(5 245.80 75.50)" fill="url(#rgw)" opacity="0.350"/><ellipse cx="267.00" cy="74.00" rx="10.00" ry="14.00" transform="rotate(0 267.00 74.00)" fill="url(#rgw)" opacity="0.130"/><ellipse cx="268.00" cy="69.50" rx="2.80" ry="6.00" transform="rotate(0 268.00 69.50)" fill="url(#rgw)" opacity="0.300"/></g>
<line x1="256.40" y1="42.90" x2="256.40" y2="96.30" stroke="#555" stroke-width="0.8"/>
<line x1="227.60" y1="64.80" x2="281.60" y2="64.80" stroke="#555" stroke-width="0.8"/>
<rect x="227.60" y="42.90" width="54.00" height="53.40" fill="none" stroke="#999" stroke-width="0.7"/>
<text x="228.60" y="45.20" font-size="3.6" text-anchor="start" font-weight="bold" textLength="6.048" lengthAdjust="spacingAndGlyphs" dominant-baseline="central">26.8</text>
<text x="280.80" y="45.20" font-size="3.6" text-anchor="end" font-weight="bold" textLength="6.048" lengthAdjust="spacingAndGlyphs" dominant-baseline="central">38.7</text>
<text x="228.60" y="94.10" font-size="3.6" text-anchor="start" font-weight="bold" textLength="6.048" lengthAdjust="spacingAndGlyphs" dominant-baseline="central">21.8</text>
<text x="280.80" y="94.10" font-size="3.6" text-anchor="end" font-weight="bold" textLength="6.048" lengthAdjust="spacingAndGlyphs" dominant-baseline="central">17.4</text>
<g filter="url(#fl6)"><polygon points="309.0,46.0 348.0,46.0 349.0,65.0 347.0,88.0 336.0,93.0 322.0,93.0 312.0,90.0 308.0,75.0 308.0,60.0" fill="rgb(23,23,23)" stroke="rgb(23,23,23)" stroke-width="2" stroke-linejoin="round"/><polygon points="311.0,48.0 346.0,48.0 347.0,65.0 345.0,84.0 334.0,88.0 322.0,88.0 313.0,86.0 310.0,75.0 310.0,60.0" fill="rgb(43,43,43)" stroke="rgb(43,43,43)" stroke-width="2" stroke-linejoin="round"/><ellipse cx="315.50" cy="56.00" rx="6.00" ry="12.00" transform="rotate(0 315.50 56.00)" fill="url(#rgw)" opacity="0.600"/><ellipse cx="315.50" cy="53.00" rx="4.00" ry="6.00" transform="rotate(0 315.50 53.00)" fill="url(#rgw)" opacity="0.700"/><ellipse cx="315.30" cy="52.00" rx="2.60" ry="3.50" transform="rotate(0 315.30 52.00)" fill="url(#rgw)" opacity="0.900"/><ellipse cx="315.80" cy="74.00" rx="5.00" ry="10.00" transform="rotate(0 315.80 74.00)" fill="url(#rgw)" opacity="0.620"/><ellipse cx="316.00" cy="76.00" rx="2.50" ry="5.00" transform="rotate(0 316.00 76.00)" fill="url(#rgw)" opacity="0.400"/><ellipse cx="340.00" cy="55.00" rx="6.50" ry="6.50" transform="rotate(0 340.00 55.00)" fill="url(#rgw)" opacity="0.450"/><ellipse cx="340.00" cy="72.50" rx="6.50" ry="7.00" transform="rotate(0 340.00 72.50)" fill="url(#rgw)" opacity="0.450"/></g>
<line x1="326.70" y1="42.90" x2="326.70" y2="96.30" stroke="#555" stroke-width="0.8"/>
<line x1="297.50" y1="64.50" x2="351.50" y2="64.50" stroke="#555" stroke-width="0.8"/>
<rect x="297.50" y="42.90" width="54.00" height="53.40" fill="none" stroke="#999" stroke-width="0.7"/>
<text x="298.50" y="45.20" font-size="3.6" text-anchor="start" font-weight="bold" textLength="6.048" lengthAdjust="spacingAndGlyphs" dominant-baseline="central">40.2</text>
<text x="350.70" y="45.20" font-size="3.6" text-anchor="end" font-weight="bold" textLength="6.048" lengthAdjust="spacingAndGlyphs" dominant-baseline="central">17.7</text>
<text x="298.50" y="94.10" font-size="3.6" text-anchor="start" font-weight="bold" textLength="6.048" lengthAdjust="spacingAndGlyphs" dominant-baseline="central">24.4</text>
<text x="350.70" y="94.10" font-size="3.6" text-anchor="end" font-weight="bold" textLength="6.048" lengthAdjust="spacingAndGlyphs" dominant-baseline="central">17.7</text>
<g filter="url(#fl7)"><polygon points="380.0,46.0 395.0,45.0 398.0,49.0 401.0,45.0 418.0,44.0 419.0,60.0 418.0,76.0 416.0,90.0 408.0,93.0 398.0,91.0 390.0,93.0 382.0,91.0 379.0,78.0 379.0,62.0" fill="rgb(26,26,26)" stroke="rgb(26,26,26)" stroke-width="2" stroke-linejoin="round"/><polygon points="382.0,49.0 394.0,48.0 397.0,53.0 403.0,48.0 416.0,47.0 416.0,62.0 415.0,80.0 407.0,88.0 398.0,84.0 391.0,88.0 384.0,86.0 381.0,75.0 381.0,60.0" fill="rgb(51,51,51)" stroke="rgb(51,51,51)" stroke-width="2" stroke-linejoin="round"/><ellipse cx="387.50" cy="55.50" rx="6.20" ry="10.50" transform="rotate(0 387.50 55.50)" fill="url(#rgw)" opacity="0.600"/><ellipse cx="387.70" cy="54.00" rx="3.50" ry="5.00" transform="rotate(0 387.70 54.00)" fill="url(#rgw)" opacity="0.700"/><ellipse cx="387.70" cy="54.00" rx="2.00" ry="2.80" transform="rotate(0 387.70 54.00)" fill="url(#rgw)" opacity="0.700"/><ellipse cx="407.50" cy="56.50" rx="15.00" ry="9.50" transform="rotate(-35 407.50 56.50)" fill="url(#rgw)" opacity="0.550"/><ellipse cx="408.80" cy="55.50" rx="8.00" ry="4.50" transform="rotate(-35 408.80 55.50)" fill="url(#rgw)" opacity="0.750"/><ellipse cx="409.20" cy="55.20" rx="3.50" ry="2.20" transform="rotate(-35 409.20 55.20)" fill="url(#rgw)" opacity="0.900"/><ellipse cx="386.50" cy="75.50" rx="6.00" ry="12.00" transform="rotate(5 386.50 75.50)" fill="url(#rgw)" opacity="0.550"/><ellipse cx="407.00" cy="74.00" rx="10.00" ry="14.00" transform="rotate(0 407.00 74.00)" fill="url(#rgw)" opacity="0.100"/></g>
<line x1="397.30" y1="42.90" x2="397.30" y2="96.30" stroke="#555" stroke-width="0.8"/>
<line x1="368.60" y1="64.60" x2="422.60" y2="64.60" stroke="#555" stroke-width="0.8"/>
<rect x="368.60" y="42.90" width="54.00" height="53.40" fill="none" stroke="#999" stroke-width="0.7"/>
<text x="369.60" y="45.20" font-size="3.6" text-anchor="start" font-weight="bold" textLength="6.048" lengthAdjust="spacingAndGlyphs" dominant-baseline="central">26.9</text>
<text x="421.80" y="45.20" font-size="3.6" text-anchor="end" font-weight="bold" textLength="3.024" lengthAdjust="spacingAndGlyphs" dominant-baseline="central">37</text>
<text x="369.60" y="94.10" font-size="3.6" text-anchor="start" font-weight="bold" textLength="6.048" lengthAdjust="spacingAndGlyphs" dominant-baseline="central">15.6</text>
<text x="421.80" y="94.10" font-size="3.6" text-anchor="end" font-weight="bold" textLength="6.048" lengthAdjust="spacingAndGlyphs" dominant-baseline="central">17.5</text>
<g filter="url(#fl8)"><polygon points="449.0,46.0 488.0,46.0 489.0,65.0 487.0,88.0 476.0,92.0 462.0,92.0 452.0,90.0 448.0,75.0 448.0,60.0" fill="rgb(20,20,20)" stroke="rgb(20,20,20)" stroke-width="2" stroke-linejoin="round"/><polygon points="451.0,48.0 486.0,48.0 487.0,65.0 485.0,84.0 474.0,88.0 462.0,88.0 453.0,86.0 450.0,75.0 450.0,60.0" fill="rgb(36,36,36)" stroke="rgb(36,36,36)" stroke-width="2" stroke-linejoin="round"/><ellipse cx="456.00" cy="54.50" rx="7.00" ry="10.00" transform="rotate(0 456.00 54.50)" fill="url(#rgw)" opacity="0.650"/><ellipse cx="455.80" cy="52.50" rx="4.00" ry="5.00" transform="rotate(0 455.80 52.50)" fill="url(#rgw)" opacity="0.800"/><ellipse cx="455.80" cy="52.00" rx="2.20" ry="2.80" transform="rotate(0 455.80 52.00)" fill="url(#rgw)" opacity="0.900"/><ellipse cx="456.00" cy="76.00" rx="4.50" ry="10.00" transform="rotate(0 456.00 76.00)" fill="url(#rgw)" opacity="0.550"/><ellipse cx="481.50" cy="64.00" rx="4.50" ry="14.00" transform="rotate(0 481.50 64.00)" fill="url(#rgw)" opacity="0.300"/><ellipse cx="476.00" cy="66.00" rx="10.00" ry="18.00" transform="rotate(0 476.00 66.00)" fill="url(#rgw)" opacity="0.120"/></g>
<line x1="467.60" y1="42.90" x2="467.60" y2="96.30" stroke="#555" stroke-width="0.8"/>
<line x1="438.60" y1="64.80" x2="492.60" y2="64.80" stroke="#555" stroke-width="0.8"/>
<rect x="438.60" y="42.90" width="54.00" height="53.40" fill="none" stroke="#999" stroke-width="0.7"/>
<text x="439.60" y="45.20" font-size="3.6" text-anchor="start" font-weight="bold" textLength="6.048" lengthAdjust="spacingAndGlyphs" dominant-baseline="central">42.4</text>
<text x="491.80" y="45.20" font-size="3.6" text-anchor="end" font-weight="bold" textLength="6.048" lengthAdjust="spacingAndGlyphs" dominant-baseline="central">16.6</text>
<text x="439.60" y="94.10" font-size="3.6" text-anchor="start" font-weight="bold" textLength="6.048" lengthAdjust="spacingAndGlyphs" dominant-baseline="central">23.1</text>
<text x="491.80" y="94.10" font-size="3.6" text-anchor="end" font-weight="bold" textLength="6.048" lengthAdjust="spacingAndGlyphs" dominant-baseline="central">16.6</text>
<g filter="url(#fl9)"><polygon points="230.0,116.0 279.0,115.0 280.0,140.0 279.0,162.0 230.0,162.0 229.0,140.0" fill="rgb(13,13,13)" stroke="rgb(13,13,13)" stroke-width="2" stroke-linejoin="round"/><polygon points="230.0,131.0 258.0,130.0 266.0,124.0 278.0,119.0 280.0,140.0 278.0,161.0 231.0,161.0" fill="rgb(33,33,33)" stroke="rgb(33,33,33)" stroke-width="2" stroke-linejoin="round"/><ellipse cx="241.50" cy="145.50" rx="11.00" ry="12.00" transform="rotate(0 241.50 145.50)" fill="url(#rgf)" opacity="0.300"/><ellipse cx="241.50" cy="145.50" rx="6.00" ry="7.00" transform="rotate(0 241.50 145.50)" fill="url(#rgw)" opacity="0.250"/><polygon points="261.0,130.0 270.0,124.0 279.5,119.5 280.5,135.0 277.5,150.0 272.5,160.5 266.0,157.0 260.5,145.0" fill="rgb(89,89,89)" stroke="rgb(89,89,89)" stroke-width="2" stroke-linejoin="round"/><polygon points="264.0,132.0 271.0,127.5 278.0,124.5 278.0,136.0 275.5,149.0 271.5,156.0 267.5,150.0 264.5,142.0" fill="rgb(140,140,140)" stroke="rgb(140,140,140)" stroke-width="2" stroke-linejoin="round"/><ellipse cx="271.30" cy="140.50" rx="5.50" ry="9.00" transform="rotate(-10 271.30 140.50)" fill="url(#rgw)" opacity="0.550"/><ellipse cx="271.70" cy="139.80" rx="2.80" ry="4.00" transform="rotate(-10 271.70 139.80)" fill="url(#rgw)" opacity="0.750"/></g>
<line x1="249.90" y1="111.60" x2="249.90" y2="164.70" stroke="#555" stroke-width="0.8"/>
<line x1="227.60" y1="132.60" x2="281.60" y2="132.60" stroke="#555" stroke-width="0.8"/>
<rect x="227.60" y="111.60" width="54.00" height="53.10" fill="none" stroke="#999" stroke-width="0.7"/>
<text x="228.60" y="113.90" font-size="3.6" text-anchor="start" font-weight="bold" textLength="6.048" lengthAdjust="spacingAndGlyphs" dominant-baseline="central">1.38</text>
<text x="280.80" y="113.90" font-size="3.6" text-anchor="end" font-weight="bold" textLength="6.048" lengthAdjust="spacingAndGlyphs" dominant-baseline="central">5.23</text>
<text x="228.60" y="162.50" font-size="3.6" text-anchor="start" font-weight="bold" textLength="6.048" lengthAdjust="spacingAndGlyphs" dominant-baseline="central">15.6</text>
<text x="280.80" y="162.50" font-size="3.6" text-anchor="end" font-weight="bold" textLength="6.048" lengthAdjust="spacingAndGlyphs" dominant-baseline="central">78.1</text>
<g filter="url(#fl10)"><polygon points="300.0,114.0 349.0,114.0 350.0,140.0 349.0,163.0 300.0,163.0 299.0,140.0" fill="rgb(18,18,18)" stroke="rgb(18,18,18)" stroke-width="2" stroke-linejoin="round"/><polygon points="302.0,117.0 347.0,117.0 347.0,140.0 346.0,160.0 303.0,160.0 302.0,140.0" fill="rgb(28,28,28)" stroke="rgb(28,28,28)" stroke-width="2" stroke-linejoin="round"/><ellipse cx="306.50" cy="122.50" rx="8.50" ry="8.50" transform="rotate(0 306.50 122.50)" fill="url(#rgf)" opacity="0.500"/><ellipse cx="311.20" cy="145.00" rx="8.50" ry="9.50" transform="rotate(0 311.20 145.00)" fill="url(#rgf)" opacity="0.500"/><ellipse cx="340.00" cy="124.70" rx="8.00" ry="7.50" transform="rotate(0 340.00 124.70)" fill="url(#rgf)" opacity="0.470"/><ellipse cx="341.50" cy="142.00" rx="8.50" ry="14.00" transform="rotate(-8 341.50 142.00)" fill="url(#rgf)" opacity="0.580"/><ellipse cx="341.70" cy="140.00" rx="4.50" ry="6.50" transform="rotate(-8 341.70 140.00)" fill="url(#rgw)" opacity="0.600"/><ellipse cx="341.70" cy="139.50" rx="2.40" ry="3.20" transform="rotate(-8 341.70 139.50)" fill="url(#rgw)" opacity="0.600"/></g>
<line x1="320.30" y1="111.60" x2="320.30" y2="164.70" stroke="#555" stroke-width="0.8"/>
<line x1="297.50" y1="132.50" x2="351.50" y2="132.50" stroke="#555" stroke-width="0.8"/>
<rect x="297.50" y="111.60" width="54.00" height="53.10" fill="none" stroke="#999" stroke-width="0.7"/>
<text x="298.50" y="113.90" font-size="3.6" text-anchor="start" font-weight="bold" textLength="6.048" lengthAdjust="spacingAndGlyphs" dominant-baseline="central">14.8</text>
<text x="350.70" y="113.90" font-size="3.6" text-anchor="end" font-weight="bold" textLength="6.048" lengthAdjust="spacingAndGlyphs" dominant-baseline="central">14.8</text>
<text x="298.50" y="162.50" font-size="3.6" text-anchor="start" font-weight="bold" textLength="6.048" lengthAdjust="spacingAndGlyphs" dominant-baseline="central">29.5</text>
<text x="350.70" y="162.50" font-size="3.6" text-anchor="end" font-weight="bold" textLength="6.048" lengthAdjust="spacingAndGlyphs" dominant-baseline="central">45.1</text>
<g filter="url(#fl11)"><polygon points="371.0,116.0 420.0,115.0 421.0,140.0 420.0,162.0 371.0,162.0 370.0,140.0" fill="rgb(13,13,13)" stroke="rgb(13,13,13)" stroke-width="2" stroke-linejoin="round"/><polygon points="371.0,131.0 398.0,130.0 406.0,124.0 418.0,119.0 421.0,140.0 419.0,161.0 372.0,161.0" fill="rgb(31,31,31)" stroke="rgb(31,31,31)" stroke-width="2" stroke-linejoin="round"/><ellipse cx="382.00" cy="146.00" rx="10.00" ry="11.00" transform="rotate(0 382.00 146.00)" fill="url(#rgf)" opacity="0.260"/><polygon points="401.2,131.8 410.2,125.8 419.7,121.3 420.7,136.8 417.7,151.8 412.7,162.3 406.2,158.8 400.7,146.8" fill="rgb(89,89,89)" stroke="rgb(89,89,89)" stroke-width="2" stroke-linejoin="round"/><polygon points="404.2,133.8 411.2,129.3 418.2,126.3 418.2,137.8 415.7,150.8 411.7,157.8 407.7,151.8 404.7,143.8" fill="rgb(140,140,140)" stroke="rgb(140,140,140)" stroke-width="2" stroke-linejoin="round"/><ellipse cx="411.50" cy="142.30" rx="5.50" ry="9.00" transform="rotate(-10 411.50 142.30)" fill="url(#rgw)" opacity="0.550"/><ellipse cx="411.90" cy="141.60" rx="2.80" ry="4.00" transform="rotate(-10 411.90 141.60)" fill="url(#rgw)" opacity="0.750"/></g>
<line x1="390.60" y1="111.60" x2="390.60" y2="164.70" stroke="#555" stroke-width="0.8"/>
<line x1="368.60" y1="132.20" x2="422.60" y2="132.20" stroke="#555" stroke-width="0.8"/>
<rect x="368.60" y="111.60" width="54.00" height="53.10" fill="none" stroke="#999" stroke-width="0.7"/>
<text x="369.60" y="113.90" font-size="3.6" text-anchor="start" font-weight="bold" textLength="6.048" lengthAdjust="spacingAndGlyphs" dominant-baseline="central">1.91</text>
<text x="421.80" y="113.90" font-size="3.6" text-anchor="end" font-weight="bold" textLength="4.536" lengthAdjust="spacingAndGlyphs" dominant-baseline="central">6.1</text>
<text x="369.60" y="162.50" font-size="3.6" text-anchor="start" font-weight="bold" textLength="6.048" lengthAdjust="spacingAndGlyphs" dominant-baseline="central">13.1</text>
<text x="421.80" y="162.50" font-size="3.6" text-anchor="end" font-weight="bold" textLength="6.048" lengthAdjust="spacingAndGlyphs" dominant-baseline="central">79.1</text>
<g filter="url(#fl12)"><polygon points="440.0,114.0 490.0,114.0 491.0,140.0 490.0,163.0 440.0,163.0 439.0,140.0" fill="rgb(15,15,15)" stroke="rgb(15,15,15)" stroke-width="2" stroke-linejoin="round"/><polygon points="443.0,117.0 487.0,117.0 488.0,140.0 487.0,161.0 443.0,161.0 442.0,140.0" fill="rgb(23,23,23)" stroke="rgb(23,23,23)" stroke-width="2" stroke-linejoin="round"/><ellipse cx="446.50" cy="123.00" rx="8.50" ry="8.50" transform="rotate(0 446.50 123.00)" fill="url(#rgf)" opacity="0.360"/><ellipse cx="452.30" cy="147.00" rx="8.50" ry="9.50" transform="rotate(0 452.30 147.00)" fill="url(#rgf)" opacity="0.360"/><ellipse cx="481.20" cy="123.60" rx="8.00" ry="7.50" transform="rotate(0 481.20 123.60)" fill="url(#rgf)" opacity="0.330"/><ellipse cx="482.90" cy="141.50" rx="7.50" ry="13.00" transform="rotate(-5 482.90 141.50)" fill="url(#rgf)" opacity="0.450"/><ellipse cx="483.00" cy="140.50" rx="3.50" ry="5.00" transform="rotate(-5 483.00 140.50)" fill="url(#rgw)" opacity="0.400"/></g>
<line x1="460.60" y1="111.60" x2="460.60" y2="164.70" stroke="#555" stroke-width="0.8"/>
<line x1="438.60" y1="132.20" x2="492.60" y2="132.20" stroke="#555" stroke-width="0.8"/>
<rect x="438.60" y="111.60" width="54.00" height="53.10" fill="none" stroke="#999" stroke-width="0.7"/>
<text x="439.60" y="113.90" font-size="3.6" text-anchor="start" font-weight="bold" textLength="6.048" lengthAdjust="spacingAndGlyphs" dominant-baseline="central">16.6</text>
<text x="491.80" y="113.90" font-size="3.6" text-anchor="end" font-weight="bold" textLength="6.048" lengthAdjust="spacingAndGlyphs" dominant-baseline="central">16.2</text>
<text x="439.60" y="162.50" font-size="3.6" text-anchor="start" font-weight="bold" textLength="6.048" lengthAdjust="spacingAndGlyphs" dominant-baseline="central">23.7</text>
<text x="491.80" y="162.50" font-size="3.6" text-anchor="end" font-weight="bold" textLength="6.048" lengthAdjust="spacingAndGlyphs" dominant-baseline="central">43.6</text>
<text x="225.40" y="48.00" font-size="6.5" text-anchor="end" dominant-baseline="central" fill="#222">10<tspan font-size="4.42" dy="-2.60" font-weight="bold">5</tspan></text>
<line x1="226.10" y1="47.20" x2="227.60" y2="47.20" stroke="#555" stroke-width="0.7"/>
<text x="225.40" y="62.10" font-size="6.5" text-anchor="end" dominant-baseline="central" fill="#222">10<tspan font-size="4.42" dy="-2.60" font-weight="bold">4</tspan></text>
<line x1="226.10" y1="61.30" x2="227.60" y2="61.30" stroke="#555" stroke-width="0.7"/>
<text x="225.40" y="76.00" font-size="6.5" text-anchor="end" dominant-baseline="central" fill="#222">10<tspan font-size="4.42" dy="-2.60" font-weight="bold">3</tspan></text>
<line x1="226.10" y1="75.20" x2="227.60" y2="75.20" stroke="#555" stroke-width="0.7"/>
<text x="223.60" y="84.80" font-size="6.5" text-anchor="end" fill="#222" dominant-baseline="central">0</text>
<line x1="226.10" y1="84.40" x2="227.60" y2="84.40" stroke="#555" stroke-width="0.7"/>
<text x="245.30" y="103.90" font-size="6.5" text-anchor="middle" fill="#222" dominant-baseline="central">0</text>
<text x="262.80" y="104.30" font-size="6.5" text-anchor="middle" dominant-baseline="central" fill="#222">10<tspan font-size="4.42" dy="-2.60" font-weight="bold">4</tspan></text>
<text x="276.60" y="104.30" font-size="6.5" text-anchor="middle" dominant-baseline="central" fill="#222">10<tspan font-size="4.42" dy="-2.60" font-weight="bold">5</tspan></text>
<text x="225.40" y="116.80" font-size="6.5" text-anchor="end" dominant-baseline="central" fill="#222">10<tspan font-size="4.42" dy="-2.60" font-weight="bold">5</tspan></text>
<line x1="226.10" y1="116.00" x2="227.60" y2="116.00" stroke="#555" stroke-width="0.7"/>
<text x="225.40" y="130.20" font-size="6.5" text-anchor="end" dominant-baseline="central" fill="#222">10<tspan font-size="4.42" dy="-2.60" font-weight="bold">4</tspan></text>
<line x1="226.10" y1="129.40" x2="227.60" y2="129.40" stroke="#555" stroke-width="0.7"/>
<text x="225.40" y="144.30" font-size="6.5" text-anchor="end" dominant-baseline="central" fill="#222">10<tspan font-size="4.42" dy="-2.60" font-weight="bold">3</tspan></text>
<line x1="226.10" y1="143.50" x2="227.60" y2="143.50" stroke="#555" stroke-width="0.7"/>
<text x="223.60" y="152.90" font-size="6.5" text-anchor="end" fill="#222" dominant-baseline="central">0</text>
<line x1="226.10" y1="152.50" x2="227.60" y2="152.50" stroke="#555" stroke-width="0.7"/>
<text x="245.30" y="172.30" font-size="6.5" text-anchor="middle" fill="#222" dominant-baseline="central">0</text>
<text x="262.80" y="172.70" font-size="6.5" text-anchor="middle" dominant-baseline="central" fill="#222">10<tspan font-size="4.42" dy="-2.60" font-weight="bold">4</tspan></text>
<text x="276.60" y="172.70" font-size="6.5" text-anchor="middle" dominant-baseline="central" fill="#222">10<tspan font-size="4.42" dy="-2.60" font-weight="bold">5</tspan></text>
<text x="295.30" y="48.00" font-size="6.5" text-anchor="end" dominant-baseline="central" fill="#222">10<tspan font-size="4.42" dy="-2.60" font-weight="bold">5</tspan></text>
<line x1="296.00" y1="47.20" x2="297.50" y2="47.20" stroke="#555" stroke-width="0.7"/>
<text x="295.30" y="62.10" font-size="6.5" text-anchor="end" dominant-baseline="central" fill="#222">10<tspan font-size="4.42" dy="-2.60" font-weight="bold">4</tspan></text>
<line x1="296.00" y1="61.30" x2="297.50" y2="61.30" stroke="#555" stroke-width="0.7"/>
<text x="295.30" y="76.00" font-size="6.5" text-anchor="end" dominant-baseline="central" fill="#222">10<tspan font-size="4.42" dy="-2.60" font-weight="bold">3</tspan></text>
<line x1="296.00" y1="75.20" x2="297.50" y2="75.20" stroke="#555" stroke-width="0.7"/>
<text x="293.50" y="84.80" font-size="6.5" text-anchor="end" fill="#222" dominant-baseline="central">0</text>
<line x1="296.00" y1="84.40" x2="297.50" y2="84.40" stroke="#555" stroke-width="0.7"/>
<text x="315.20" y="103.90" font-size="6.5" text-anchor="middle" fill="#222" dominant-baseline="central">0</text>
<text x="332.70" y="104.30" font-size="6.5" text-anchor="middle" dominant-baseline="central" fill="#222">10<tspan font-size="4.42" dy="-2.60" font-weight="bold">4</tspan></text>
<text x="346.50" y="104.30" font-size="6.5" text-anchor="middle" dominant-baseline="central" fill="#222">10<tspan font-size="4.42" dy="-2.60" font-weight="bold">5</tspan></text>
<text x="295.30" y="116.80" font-size="6.5" text-anchor="end" dominant-baseline="central" fill="#222">10<tspan font-size="4.42" dy="-2.60" font-weight="bold">5</tspan></text>
<line x1="296.00" y1="116.00" x2="297.50" y2="116.00" stroke="#555" stroke-width="0.7"/>
<text x="295.30" y="130.20" font-size="6.5" text-anchor="end" dominant-baseline="central" fill="#222">10<tspan font-size="4.42" dy="-2.60" font-weight="bold">4</tspan></text>
<line x1="296.00" y1="129.40" x2="297.50" y2="129.40" stroke="#555" stroke-width="0.7"/>
<text x="295.30" y="144.30" font-size="6.5" text-anchor="end" dominant-baseline="central" fill="#222">10<tspan font-size="4.42" dy="-2.60" font-weight="bold">3</tspan></text>
<line x1="296.00" y1="143.50" x2="297.50" y2="143.50" stroke="#555" stroke-width="0.7"/>
<text x="293.50" y="152.90" font-size="6.5" text-anchor="end" fill="#222" dominant-baseline="central">0</text>
<line x1="296.00" y1="152.50" x2="297.50" y2="152.50" stroke="#555" stroke-width="0.7"/>
<text x="315.20" y="172.30" font-size="6.5" text-anchor="middle" fill="#222" dominant-baseline="central">0</text>
<text x="332.70" y="172.70" font-size="6.5" text-anchor="middle" dominant-baseline="central" fill="#222">10<tspan font-size="4.42" dy="-2.60" font-weight="bold">4</tspan></text>
<text x="346.50" y="172.70" font-size="6.5" text-anchor="middle" dominant-baseline="central" fill="#222">10<tspan font-size="4.42" dy="-2.60" font-weight="bold">5</tspan></text>
<text x="366.40" y="48.00" font-size="6.5" text-anchor="end" dominant-baseline="central" fill="#222">10<tspan font-size="4.42" dy="-2.60" font-weight="bold">5</tspan></text>
<line x1="367.10" y1="47.20" x2="368.60" y2="47.20" stroke="#555" stroke-width="0.7"/>
<text x="366.40" y="62.10" font-size="6.5" text-anchor="end" dominant-baseline="central" fill="#222">10<tspan font-size="4.42" dy="-2.60" font-weight="bold">4</tspan></text>
<line x1="367.10" y1="61.30" x2="368.60" y2="61.30" stroke="#555" stroke-width="0.7"/>
<text x="366.40" y="76.00" font-size="6.5" text-anchor="end" dominant-baseline="central" fill="#222">10<tspan font-size="4.42" dy="-2.60" font-weight="bold">3</tspan></text>
<line x1="367.10" y1="75.20" x2="368.60" y2="75.20" stroke="#555" stroke-width="0.7"/>
<text x="364.60" y="84.80" font-size="6.5" text-anchor="end" fill="#222" dominant-baseline="central">0</text>
<line x1="367.10" y1="84.40" x2="368.60" y2="84.40" stroke="#555" stroke-width="0.7"/>
<text x="386.30" y="103.90" font-size="6.5" text-anchor="middle" fill="#222" dominant-baseline="central">0</text>
<text x="403.80" y="104.30" font-size="6.5" text-anchor="middle" dominant-baseline="central" fill="#222">10<tspan font-size="4.42" dy="-2.60" font-weight="bold">4</tspan></text>
<text x="417.60" y="104.30" font-size="6.5" text-anchor="middle" dominant-baseline="central" fill="#222">10<tspan font-size="4.42" dy="-2.60" font-weight="bold">5</tspan></text>
<text x="366.40" y="116.80" font-size="6.5" text-anchor="end" dominant-baseline="central" fill="#222">10<tspan font-size="4.42" dy="-2.60" font-weight="bold">5</tspan></text>
<line x1="367.10" y1="116.00" x2="368.60" y2="116.00" stroke="#555" stroke-width="0.7"/>
<text x="366.40" y="130.20" font-size="6.5" text-anchor="end" dominant-baseline="central" fill="#222">10<tspan font-size="4.42" dy="-2.60" font-weight="bold">4</tspan></text>
<line x1="367.10" y1="129.40" x2="368.60" y2="129.40" stroke="#555" stroke-width="0.7"/>
<text x="366.40" y="144.30" font-size="6.5" text-anchor="end" dominant-baseline="central" fill="#222">10<tspan font-size="4.42" dy="-2.60" font-weight="bold">3</tspan></text>
<line x1="367.10" y1="143.50" x2="368.60" y2="143.50" stroke="#555" stroke-width="0.7"/>
<text x="364.60" y="152.90" font-size="6.5" text-anchor="end" fill="#222" dominant-baseline="central">0</text>
<line x1="367.10" y1="152.50" x2="368.60" y2="152.50" stroke="#555" stroke-width="0.7"/>
<text x="386.30" y="172.30" font-size="6.5" text-anchor="middle" fill="#222" dominant-baseline="central">0</text>
<text x="403.80" y="172.70" font-size="6.5" text-anchor="middle" dominant-baseline="central" fill="#222">10<tspan font-size="4.42" dy="-2.60" font-weight="bold">4</tspan></text>
<text x="417.60" y="172.70" font-size="6.5" text-anchor="middle" dominant-baseline="central" fill="#222">10<tspan font-size="4.42" dy="-2.60" font-weight="bold">5</tspan></text>
<text x="436.40" y="48.00" font-size="6.5" text-anchor="end" dominant-baseline="central" fill="#222">10<tspan font-size="4.42" dy="-2.60" font-weight="bold">5</tspan></text>
<line x1="437.10" y1="47.20" x2="438.60" y2="47.20" stroke="#555" stroke-width="0.7"/>
<text x="436.40" y="62.10" font-size="6.5" text-anchor="end" dominant-baseline="central" fill="#222">10<tspan font-size="4.42" dy="-2.60" font-weight="bold">4</tspan></text>
<line x1="437.10" y1="61.30" x2="438.60" y2="61.30" stroke="#555" stroke-width="0.7"/>
<text x="436.40" y="76.00" font-size="6.5" text-anchor="end" dominant-baseline="central" fill="#222">10<tspan font-size="4.42" dy="-2.60" font-weight="bold">3</tspan></text>
<line x1="437.10" y1="75.20" x2="438.60" y2="75.20" stroke="#555" stroke-width="0.7"/>
<text x="434.60" y="84.80" font-size="6.5" text-anchor="end" fill="#222" dominant-baseline="central">0</text>
<line x1="437.10" y1="84.40" x2="438.60" y2="84.40" stroke="#555" stroke-width="0.7"/>
<text x="456.30" y="103.90" font-size="6.5" text-anchor="middle" fill="#222" dominant-baseline="central">0</text>
<text x="473.80" y="104.30" font-size="6.5" text-anchor="middle" dominant-baseline="central" fill="#222">10<tspan font-size="4.42" dy="-2.60" font-weight="bold">4</tspan></text>
<text x="487.60" y="104.30" font-size="6.5" text-anchor="middle" dominant-baseline="central" fill="#222">10<tspan font-size="4.42" dy="-2.60" font-weight="bold">5</tspan></text>
<text x="436.40" y="116.80" font-size="6.5" text-anchor="end" dominant-baseline="central" fill="#222">10<tspan font-size="4.42" dy="-2.60" font-weight="bold">5</tspan></text>
<line x1="437.10" y1="116.00" x2="438.60" y2="116.00" stroke="#555" stroke-width="0.7"/>
<text x="436.40" y="130.20" font-size="6.5" text-anchor="end" dominant-baseline="central" fill="#222">10<tspan font-size="4.42" dy="-2.60" font-weight="bold">4</tspan></text>
<line x1="437.10" y1="129.40" x2="438.60" y2="129.40" stroke="#555" stroke-width="0.7"/>
<text x="436.40" y="144.30" font-size="6.5" text-anchor="end" dominant-baseline="central" fill="#222">10<tspan font-size="4.42" dy="-2.60" font-weight="bold">3</tspan></text>
<line x1="437.10" y1="143.50" x2="438.60" y2="143.50" stroke="#555" stroke-width="0.7"/>
<text x="434.60" y="152.90" font-size="6.5" text-anchor="end" fill="#222" dominant-baseline="central">0</text>
<line x1="437.10" y1="152.50" x2="438.60" y2="152.50" stroke="#555" stroke-width="0.7"/>
<text x="456.30" y="172.30" font-size="6.5" text-anchor="middle" fill="#222" dominant-baseline="central">0</text>
<text x="473.80" y="172.70" font-size="6.5" text-anchor="middle" dominant-baseline="central" fill="#222">10<tspan font-size="4.42" dy="-2.60" font-weight="bold">4</tspan></text>
<text x="487.60" y="172.70" font-size="6.5" text-anchor="middle" dominant-baseline="central" fill="#222">10<tspan font-size="4.42" dy="-2.60" font-weight="bold">5</tspan></text>
<line x1="208.30" y1="47.50" x2="208.30" y2="144.20" stroke="#111" stroke-width="1.1"/>
<path d="M208.3 42.6 L206.0 48.2 L210.6 48.2 Z" stroke="#111" stroke-width="0.1" fill="#111"/>
<text x="208.40" y="152.00" font-size="8.4" text-anchor="middle" font-weight="bold" fill="#222" textLength="12.8" lengthAdjust="spacingAndGlyphs" transform="rotate(-90 208.40 152.00)" dominant-baseline="central">IL-2</text>
<line x1="249.60" y1="182.40" x2="491.50" y2="182.40" stroke="#111" stroke-width="1.1"/>
<path d="M496.5 182.4 L490.5 180.0 L490.5 184.8 Z" stroke="#111" stroke-width="0.1" fill="#111"/>
<text x="238.90" y="182.00" font-size="8.4" text-anchor="middle" font-weight="bold" fill="#222" textLength="15.4" lengthAdjust="spacingAndGlyphs" dominant-baseline="central">IFN-γ</text>
<text x="204.60" y="200.40" font-size="11.2" text-anchor="start" font-weight="bold" fill="#000" dominant-baseline="central" style="stroke:#000;stroke-width:0.3px">F</text>
<line x1="239.50" y1="239.70" x2="239.50" y2="304.10" stroke="#000" stroke-width="1.35"/>
<line x1="236.90" y1="303.60" x2="239.50" y2="303.60" stroke="#111" stroke-width="1.0"/>
<text x="233.10" y="303.90" font-size="6.3" text-anchor="end" fill="#222" dominant-baseline="central">0</text>
<line x1="236.90" y1="291.32" x2="239.50" y2="291.32" stroke="#111" stroke-width="1.0"/>
<text x="233.10" y="291.62" font-size="6.3" text-anchor="end" fill="#222" dominant-baseline="central">20</text>
<line x1="236.90" y1="279.04" x2="239.50" y2="279.04" stroke="#111" stroke-width="1.0"/>
<text x="233.10" y="279.34" font-size="6.3" text-anchor="end" fill="#222" dominant-baseline="central">40</text>
<line x1="236.90" y1="266.76" x2="239.50" y2="266.76" stroke="#111" stroke-width="1.0"/>
<text x="233.10" y="267.06" font-size="6.3" text-anchor="end" fill="#222" dominant-baseline="central">60</text>
<line x1="236.90" y1="254.48" x2="239.50" y2="254.48" stroke="#111" stroke-width="1.0"/>
<text x="233.10" y="254.78" font-size="6.3" text-anchor="end" fill="#222" dominant-baseline="central">80</text>
<line x1="236.90" y1="242.20" x2="239.50" y2="242.20" stroke="#111" stroke-width="1.0"/>
<text x="233.10" y="242.50" font-size="6.3" text-anchor="end" fill="#222" dominant-baseline="central">100</text>
<line x1="250.05" y1="266.90" x2="250.05" y2="261.70" stroke="#222" stroke-width="1.1"/>
<line x1="246.45" y1="261.70" x2="253.65" y2="261.70" stroke="#222" stroke-width="1.2"/>
<rect x="241.60" y="266.90" width="16.90" height="19.10" fill="#551e6e"/>
<rect x="241.60" y="286.00" width="16.90" height="14.40" fill="#62a4dd"/>
<rect x="241.60" y="300.40" width="16.90" height="3.20" fill="#af002d"/>
<line x1="250.05" y1="303.60" x2="250.05" y2="306.40" stroke="#111" stroke-width="1.0"/>
<line x1="273.00" y1="263.80" x2="273.00" y2="258.60" stroke="#222" stroke-width="1.1"/>
<line x1="269.40" y1="258.60" x2="276.60" y2="258.60" stroke="#222" stroke-width="1.2"/>
<rect x="264.60" y="263.80" width="16.80" height="11.70" fill="#551e6e"/>
<rect x="264.60" y="275.50" width="16.80" height="23.10" fill="#62a4dd"/>
<rect x="264.60" y="298.60" width="16.80" height="5.00" fill="#af002d"/>
<line x1="273.00" y1="303.60" x2="273.00" y2="306.40" stroke="#111" stroke-width="1.0"/>
<line x1="295.85" y1="264.80" x2="295.85" y2="261.70" stroke="#222" stroke-width="1.1"/>
<line x1="292.25" y1="261.70" x2="299.45" y2="261.70" stroke="#222" stroke-width="1.2"/>
<rect x="287.60" y="264.80" width="16.50" height="18.40" fill="#551e6e"/>
<rect x="287.60" y="283.20" width="16.50" height="17.60" fill="#62a4dd"/>
<rect x="287.60" y="300.80" width="16.50" height="2.80" fill="#af002d"/>
<line x1="295.85" y1="303.60" x2="295.85" y2="306.40" stroke="#111" stroke-width="1.0"/>
<line x1="318.25" y1="263.20" x2="318.25" y2="259.20" stroke="#222" stroke-width="1.1"/>
<line x1="314.65" y1="259.20" x2="321.85" y2="259.20" stroke="#222" stroke-width="1.2"/>
<rect x="310.20" y="263.20" width="16.10" height="11.40" fill="#551e6e"/>
<rect x="310.20" y="274.60" width="16.10" height="24.00" fill="#62a4dd"/>
<rect x="310.20" y="298.60" width="16.10" height="5.00" fill="#af002d"/>
<line x1="318.25" y1="303.60" x2="318.25" y2="306.40" stroke="#111" stroke-width="1.0"/>
<line x1="238.80" y1="303.60" x2="327.80" y2="303.60" stroke="#000" stroke-width="1.4"/>
<text x="283.70" y="208.80" font-size="8.4" text-anchor="middle" textLength="69" lengthAdjust="spacingAndGlyphs" dominant-baseline="central">IL-2+ CD4 T Cells</text>
<text x="213.30" y="272.00" font-size="8.2" text-anchor="middle" font-weight="bold" fill="#222" textLength="22" lengthAdjust="spacingAndGlyphs" transform="rotate(-90 213.30 272.00)" dominant-baseline="central">% IL-2+</text>
<rect x="246.20" y="220.50" width="9.60" height="4.40" fill="#af002d"/>
<text x="257.70" y="222.90" font-size="6.4" text-anchor="start" fill="#222" textLength="14.2" lengthAdjust="spacingAndGlyphs" dominant-baseline="central">IL-2+</text>
<rect x="246.20" y="229.40" width="9.60" height="4.40" fill="#62a4dd"/>
<text x="257.70" y="231.80" font-size="6.4" text-anchor="start" fill="#222" textLength="37.7" lengthAdjust="spacingAndGlyphs" dominant-baseline="central">IL-2+TNF-α+</text>
<rect x="246.20" y="238.80" width="9.60" height="4.40" fill="#5fa550"/>
<text x="257.70" y="241.20" font-size="6.4" text-anchor="start" fill="#222" textLength="33.6" lengthAdjust="spacingAndGlyphs" dominant-baseline="central">IL-2+IFN-γ+</text>
<rect x="246.20" y="248.00" width="9.60" height="4.40" fill="#551e6e"/>
<text x="257.70" y="250.40" font-size="6.4" text-anchor="start" fill="#222" textLength="56.5" lengthAdjust="spacingAndGlyphs" dominant-baseline="central">IL-2+TNF-α+IFN-γ+</text>
<g transform="translate(252.05 311.30) rotate(-45)"><text x="0" y="0.00" font-size="6.5" text-anchor="end" dominant-baseline="central" fill="#222">DMSO</text></g>
<g transform="translate(275.00 311.30) rotate(-45)"><text x="0" y="0.00" font-size="6.5" text-anchor="end" dominant-baseline="central" fill="#222">100 nM</text><text x="0" y="8.30" font-size="6.5" text-anchor="end" dominant-baseline="central" fill="#222">Idelalisib</text></g>
<g transform="translate(297.85 311.30) rotate(-45)"><text x="0" y="0.00" font-size="6.5" text-anchor="end" dominant-baseline="central" fill="#222">3 μM</text><text x="0" y="8.30" font-size="6.5" text-anchor="end" dominant-baseline="central" fill="#222">VIPhyb</text></g>
<g transform="translate(320.25 311.30) rotate(-45)"><text x="0" y="0.00" font-size="6.5" text-anchor="end" dominant-baseline="central" fill="#222">100 nM</text><text x="0" y="8.30" font-size="6.5" text-anchor="end" dominant-baseline="central" fill="#222">Idelalisib</text><text x="0" y="16.60" font-size="6.5" text-anchor="end" dominant-baseline="central" fill="#222">+ VIPhyb</text></g>
<text x="273.00" y="287.00" font-size="5.0" text-anchor="middle" fill="#fff" dominant-baseline="central">*</text>
<text x="318.30" y="286.00" font-size="5.0" text-anchor="middle" fill="#fff" dominant-baseline="central">*</text>
<line x1="368.90" y1="239.20" x2="368.90" y2="304.20" stroke="#000" stroke-width="1.35"/>
<line x1="366.30" y1="303.70" x2="368.90" y2="303.70" stroke="#111" stroke-width="1.0"/>
<text x="362.50" y="304.00" font-size="6.3" text-anchor="end" fill="#222" dominant-baseline="central">0</text>
<line x1="366.30" y1="291.30" x2="368.90" y2="291.30" stroke="#111" stroke-width="1.0"/>
<text x="362.50" y="291.60" font-size="6.3" text-anchor="end" fill="#222" dominant-baseline="central">20</text>
<line x1="366.30" y1="278.90" x2="368.90" y2="278.90" stroke="#111" stroke-width="1.0"/>
<text x="362.50" y="279.20" font-size="6.3" text-anchor="end" fill="#222" dominant-baseline="central">40</text>
<line x1="366.30" y1="266.50" x2="368.90" y2="266.50" stroke="#111" stroke-width="1.0"/>
<text x="362.50" y="266.80" font-size="6.3" text-anchor="end" fill="#222" dominant-baseline="central">60</text>
<line x1="366.30" y1="254.10" x2="368.90" y2="254.10" stroke="#111" stroke-width="1.0"/>
<text x="362.50" y="254.40" font-size="6.3" text-anchor="end" fill="#222" dominant-baseline="central">80</text>
<line x1="366.30" y1="241.70" x2="368.90" y2="241.70" stroke="#111" stroke-width="1.0"/>
<text x="362.50" y="242.00" font-size="6.3" text-anchor="end" fill="#222" dominant-baseline="central">100</text>
<line x1="380.20" y1="275.40" x2="380.20" y2="270.60" stroke="#222" stroke-width="1.1"/>
<line x1="376.60" y1="270.60" x2="383.80" y2="270.60" stroke="#222" stroke-width="1.2"/>
<rect x="371.70" y="275.40" width="17.00" height="19.00" fill="#551e6e"/>
<rect x="371.70" y="294.40" width="17.00" height="9.30" fill="#62a4dd"/>
<line x1="380.20" y1="303.70" x2="380.20" y2="306.50" stroke="#111" stroke-width="1.0"/>
<line x1="403.20" y1="287.00" x2="403.20" y2="282.50" stroke="#222" stroke-width="1.1"/>
<line x1="399.60" y1="282.50" x2="406.80" y2="282.50" stroke="#222" stroke-width="1.2"/>
<rect x="395.20" y="287.00" width="16.00" height="10.90" fill="#551e6e"/>
<rect x="395.20" y="297.90" width="16.00" height="5.80" fill="#62a4dd"/>
<line x1="403.20" y1="303.70" x2="403.20" y2="306.50" stroke="#111" stroke-width="1.0"/>
<line x1="425.90" y1="276.70" x2="425.90" y2="272.50" stroke="#222" stroke-width="1.1"/>
<line x1="422.30" y1="272.50" x2="429.50" y2="272.50" stroke="#222" stroke-width="1.2"/>
<rect x="417.60" y="276.70" width="16.60" height="18.70" fill="#551e6e"/>
<rect x="417.60" y="295.40" width="16.60" height="8.30" fill="#62a4dd"/>
<line x1="425.90" y1="303.70" x2="425.90" y2="306.50" stroke="#111" stroke-width="1.0"/>
<line x1="448.85" y1="286.90" x2="448.85" y2="282.20" stroke="#222" stroke-width="1.1"/>
<line x1="445.25" y1="282.20" x2="452.45" y2="282.20" stroke="#222" stroke-width="1.2"/>
<rect x="440.80" y="286.90" width="16.10" height="11.60" fill="#551e6e"/>
<rect x="440.80" y="298.50" width="16.10" height="5.20" fill="#62a4dd"/>
<line x1="448.85" y1="303.70" x2="448.85" y2="306.50" stroke="#111" stroke-width="1.0"/>
<line x1="368.20" y1="303.70" x2="459.40" y2="303.70" stroke="#000" stroke-width="1.4"/>
<text x="414.00" y="208.60" font-size="8.4" text-anchor="middle" textLength="73.3" lengthAdjust="spacingAndGlyphs" dominant-baseline="central">IFN-γ+ CD4 T Cells</text>
<text x="342.80" y="271.70" font-size="8.2" text-anchor="middle" font-weight="bold" fill="#222" textLength="25.4" lengthAdjust="spacingAndGlyphs" transform="rotate(-90 342.80 271.70)" dominant-baseline="central">% IFN-γ+</text>
<rect x="376.60" y="220.40" width="9.60" height="4.40" fill="#af002d"/>
<text x="388.10" y="222.80" font-size="6.4" text-anchor="start" fill="#222" textLength="17.7" lengthAdjust="spacingAndGlyphs" dominant-baseline="central">IFN-γ+</text>
<rect x="376.60" y="229.40" width="9.60" height="4.40" fill="#62a4dd"/>
<text x="388.10" y="231.80" font-size="6.4" text-anchor="start" fill="#222" textLength="38" lengthAdjust="spacingAndGlyphs" dominant-baseline="central">IFN-γ+TNF-α+</text>
<rect x="376.60" y="238.70" width="9.60" height="4.40" fill="#5fa550"/>
<text x="388.10" y="241.10" font-size="6.4" text-anchor="start" fill="#222" textLength="33" lengthAdjust="spacingAndGlyphs" dominant-baseline="central">IFN-γ+IL-2+</text>
<rect x="376.60" y="248.10" width="9.60" height="4.40" fill="#551e6e"/>
<text x="388.10" y="250.50" font-size="6.4" text-anchor="start" fill="#222" textLength="56" lengthAdjust="spacingAndGlyphs" dominant-baseline="central">IFN-γ+TNF-α+IL-2+</text>
<g transform="translate(382.20 311.40) rotate(-45)"><text x="0" y="0.00" font-size="6.5" text-anchor="end" dominant-baseline="central" fill="#222">DMSO</text></g>
<g transform="translate(405.20 311.40) rotate(-45)"><text x="0" y="0.00" font-size="6.5" text-anchor="end" dominant-baseline="central" fill="#222">100 nM</text><text x="0" y="8.30" font-size="6.5" text-anchor="end" dominant-baseline="central" fill="#222">Idelalisib</text></g>
<g transform="translate(427.90 311.40) rotate(-45)"><text x="0" y="0.00" font-size="6.5" text-anchor="end" dominant-baseline="central" fill="#222">3 μM</text><text x="0" y="8.30" font-size="6.5" text-anchor="end" dominant-baseline="central" fill="#222">VIPhyb</text></g>
<g transform="translate(450.85 311.40) rotate(-45)"><text x="0" y="0.00" font-size="6.5" text-anchor="end" dominant-baseline="central" fill="#222">100 nM</text><text x="0" y="8.30" font-size="6.5" text-anchor="end" dominant-baseline="central" fill="#222">Idelalisib</text><text x="0" y="16.60" font-size="6.5" text-anchor="end" dominant-baseline="central" fill="#222">+ VIPhyb</text></g>
<line x1="239.60" y1="359.10" x2="239.60" y2="422.20" stroke="#000" stroke-width="1.35"/>
<line x1="237.00" y1="421.70" x2="239.60" y2="421.70" stroke="#111" stroke-width="1.0"/>
<text x="233.20" y="422.00" font-size="6.3" text-anchor="end" fill="#222" dominant-baseline="central">0</text>
<line x1="237.00" y1="409.68" x2="239.60" y2="409.68" stroke="#111" stroke-width="1.0"/>
<text x="233.20" y="409.98" font-size="6.3" text-anchor="end" fill="#222" dominant-baseline="central">20</text>
<line x1="237.00" y1="397.66" x2="239.60" y2="397.66" stroke="#111" stroke-width="1.0"/>
<text x="233.20" y="397.96" font-size="6.3" text-anchor="end" fill="#222" dominant-baseline="central">40</text>
<line x1="237.00" y1="385.64" x2="239.60" y2="385.64" stroke="#111" stroke-width="1.0"/>
<text x="233.20" y="385.94" font-size="6.3" text-anchor="end" fill="#222" dominant-baseline="central">60</text>
<line x1="237.00" y1="373.62" x2="239.60" y2="373.62" stroke="#111" stroke-width="1.0"/>
<text x="233.20" y="373.92" font-size="6.3" text-anchor="end" fill="#222" dominant-baseline="central">80</text>
<line x1="237.00" y1="361.60" x2="239.60" y2="361.60" stroke="#111" stroke-width="1.0"/>
<text x="233.20" y="361.90" font-size="6.3" text-anchor="end" fill="#222" dominant-baseline="central">100</text>
<line x1="250.20" y1="411.40" x2="250.20" y2="406.80" stroke="#222" stroke-width="1.1"/>
<line x1="246.60" y1="406.80" x2="253.80" y2="406.80" stroke="#222" stroke-width="1.2"/>
<rect x="241.70" y="411.40" width="17.00" height="5.60" fill="#551e6e"/>
<rect x="241.70" y="417.00" width="17.00" height="0.80" fill="#5fa550"/>
<rect x="241.70" y="417.80" width="17.00" height="3.20" fill="#62a4dd"/>
<rect x="241.70" y="421.00" width="17.00" height="0.70" fill="#af002d"/>
<line x1="250.20" y1="421.70" x2="250.20" y2="424.50" stroke="#111" stroke-width="1.0"/>
<line x1="272.90" y1="389.20" x2="272.90" y2="380.80" stroke="#222" stroke-width="1.1"/>
<line x1="269.30" y1="380.80" x2="276.50" y2="380.80" stroke="#222" stroke-width="1.2"/>
<rect x="264.80" y="389.20" width="16.20" height="11.40" fill="#551e6e"/>
<rect x="264.80" y="400.60" width="16.20" height="3.00" fill="#5fa550"/>
<rect x="264.80" y="403.60" width="16.20" height="12.60" fill="#62a4dd"/>
<rect x="264.80" y="416.20" width="16.20" height="5.50" fill="#af002d"/>
<line x1="272.90" y1="421.70" x2="272.90" y2="424.50" stroke="#111" stroke-width="1.0"/>
<line x1="296.00" y1="409.80" x2="296.00" y2="403.30" stroke="#222" stroke-width="1.1"/>
<line x1="292.40" y1="403.30" x2="299.60" y2="403.30" stroke="#222" stroke-width="1.2"/>
<rect x="287.70" y="409.80" width="16.60" height="7.90" fill="#551e6e"/>
<rect x="287.70" y="417.70" width="16.60" height="2.50" fill="#5fa550"/>
<rect x="287.70" y="420.20" width="16.60" height="1.00" fill="#62a4dd"/>
<rect x="287.70" y="421.20" width="16.60" height="0.50" fill="#af002d"/>
<line x1="296.00" y1="421.70" x2="296.00" y2="424.50" stroke="#111" stroke-width="1.0"/>
<line x1="318.45" y1="388.50" x2="318.45" y2="380.80" stroke="#222" stroke-width="1.1"/>
<line x1="314.85" y1="380.80" x2="322.05" y2="380.80" stroke="#222" stroke-width="1.2"/>
<rect x="310.40" y="388.50" width="16.10" height="11.30" fill="#551e6e"/>
<rect x="310.40" y="399.80" width="16.10" height="3.00" fill="#5fa550"/>
<rect x="310.40" y="402.80" width="16.10" height="13.40" fill="#62a4dd"/>
<rect x="310.40" y="416.20" width="16.10" height="5.50" fill="#af002d"/>
<line x1="318.45" y1="421.70" x2="318.45" y2="424.50" stroke="#111" stroke-width="1.0"/>
<line x1="238.90" y1="421.70" x2="329.00" y2="421.70" stroke="#000" stroke-width="1.4"/>
<text x="283.90" y="351.30" font-size="8.4" text-anchor="middle" textLength="68.2" lengthAdjust="spacingAndGlyphs" dominant-baseline="central">IL-2+ CD8 T Cells</text>
<text x="213.30" y="390.60" font-size="8.2" text-anchor="middle" font-weight="bold" fill="#222" textLength="21.2" lengthAdjust="spacingAndGlyphs" transform="rotate(-90 213.30 390.60)" dominant-baseline="central">% IL-2+</text>
<g transform="translate(252.20 429.40) rotate(-45)"><text x="0" y="0.00" font-size="6.5" text-anchor="end" dominant-baseline="central" fill="#222">DMSO</text></g>
<g transform="translate(274.90 429.40) rotate(-45)"><text x="0" y="0.00" font-size="6.5" text-anchor="end" dominant-baseline="central" fill="#222">100 nM</text><text x="0" y="8.30" font-size="6.5" text-anchor="end" dominant-baseline="central" fill="#222">Idelalisib</text></g>
<g transform="translate(298.00 429.40) rotate(-45)"><text x="0" y="0.00" font-size="6.5" text-anchor="end" dominant-baseline="central" fill="#222">3 μM</text><text x="0" y="8.30" font-size="6.5" text-anchor="end" dominant-baseline="central" fill="#222">VIPhyb</text></g>
<g transform="translate(320.45 429.40) rotate(-45)"><text x="0" y="0.00" font-size="6.5" text-anchor="end" dominant-baseline="central" fill="#222">100 nM</text><text x="0" y="8.30" font-size="6.5" text-anchor="end" dominant-baseline="central" fill="#222">Idelalisib</text><text x="0" y="16.60" font-size="6.5" text-anchor="end" dominant-baseline="central" fill="#222">+ VIPhyb</text></g>
<text x="273.00" y="376.80" font-size="5.0" text-anchor="middle" fill="#222" dominant-baseline="central">***</text>
<text x="318.40" y="376.80" font-size="5.0" text-anchor="middle" fill="#222" dominant-baseline="central">***</text>
<text x="273.00" y="409.80" font-size="5.0" text-anchor="middle" fill="#fff" dominant-baseline="central">**</text>
<text x="318.40" y="409.80" font-size="5.0" text-anchor="middle" fill="#fff" dominant-baseline="central">**</text>
<text x="273.00" y="419.60" font-size="5.0" text-anchor="middle" fill="#fff" dominant-baseline="central">*</text>
<text x="318.40" y="419.60" font-size="5.0" text-anchor="middle" fill="#fff" dominant-baseline="central">*</text>
<line x1="369.90" y1="361.30" x2="369.90" y2="422.40" stroke="#000" stroke-width="1.35"/>
<line x1="367.30" y1="421.90" x2="369.90" y2="421.90" stroke="#111" stroke-width="1.0"/>
<text x="363.50" y="422.20" font-size="6.3" text-anchor="end" fill="#222" dominant-baseline="central">0</text>
<line x1="367.30" y1="410.28" x2="369.90" y2="410.28" stroke="#111" stroke-width="1.0"/>
<text x="363.50" y="410.58" font-size="6.3" text-anchor="end" fill="#222" dominant-baseline="central">20</text>
<line x1="367.30" y1="398.66" x2="369.90" y2="398.66" stroke="#111" stroke-width="1.0"/>
<text x="363.50" y="398.96" font-size="6.3" text-anchor="end" fill="#222" dominant-baseline="central">40</text>
<line x1="367.30" y1="387.04" x2="369.90" y2="387.04" stroke="#111" stroke-width="1.0"/>
<text x="363.50" y="387.34" font-size="6.3" text-anchor="end" fill="#222" dominant-baseline="central">60</text>
<line x1="367.30" y1="375.42" x2="369.90" y2="375.42" stroke="#111" stroke-width="1.0"/>
<text x="363.50" y="375.72" font-size="6.3" text-anchor="end" fill="#222" dominant-baseline="central">80</text>
<line x1="367.30" y1="363.80" x2="369.90" y2="363.80" stroke="#111" stroke-width="1.0"/>
<text x="363.50" y="364.10" font-size="6.3" text-anchor="end" fill="#222" dominant-baseline="central">100</text>
<line x1="380.20" y1="386.60" x2="380.20" y2="374.50" stroke="#222" stroke-width="1.1"/>
<line x1="376.60" y1="374.50" x2="383.80" y2="374.50" stroke="#222" stroke-width="1.2"/>
<rect x="372.50" y="386.60" width="15.40" height="8.10" fill="#551e6e"/>
<rect x="372.50" y="394.70" width="15.40" height="1.40" fill="#5fa550"/>
<rect x="372.50" y="396.10" width="15.40" height="20.10" fill="#62a4dd"/>
<rect x="372.50" y="416.20" width="15.40" height="5.70" fill="#af002d"/>
<line x1="380.20" y1="421.90" x2="380.20" y2="424.70" stroke="#111" stroke-width="1.0"/>
<line x1="402.00" y1="397.90" x2="402.00" y2="385.20" stroke="#222" stroke-width="1.1"/>
<line x1="398.40" y1="385.20" x2="405.60" y2="385.20" stroke="#222" stroke-width="1.2"/>
<rect x="394.00" y="397.90" width="16.00" height="12.60" fill="#551e6e"/>
<rect x="394.00" y="410.50" width="16.00" height="2.20" fill="#5fa550"/>
<rect x="394.00" y="412.70" width="16.00" height="7.90" fill="#62a4dd"/>
<rect x="394.00" y="420.60" width="16.00" height="1.30" fill="#af002d"/>
<line x1="402.00" y1="421.90" x2="402.00" y2="424.70" stroke="#111" stroke-width="1.0"/>
<line x1="423.70" y1="386.60" x2="423.70" y2="376.90" stroke="#222" stroke-width="1.1"/>
<line x1="420.10" y1="376.90" x2="427.30" y2="376.90" stroke="#222" stroke-width="1.2"/>
<rect x="415.60" y="386.60" width="16.20" height="9.40" fill="#551e6e"/>
<rect x="415.60" y="396.00" width="16.20" height="2.00" fill="#5fa550"/>
<rect x="415.60" y="398.00" width="16.20" height="20.00" fill="#62a4dd"/>
<rect x="415.60" y="418.00" width="16.20" height="3.90" fill="#af002d"/>
<line x1="423.70" y1="421.90" x2="423.70" y2="424.70" stroke="#111" stroke-width="1.0"/>
<line x1="445.80" y1="399.80" x2="445.80" y2="385.20" stroke="#222" stroke-width="1.1"/>
<line x1="442.20" y1="385.20" x2="449.40" y2="385.20" stroke="#222" stroke-width="1.2"/>
<rect x="437.70" y="399.80" width="16.20" height="10.70" fill="#551e6e"/>
<rect x="437.70" y="410.50" width="16.20" height="2.20" fill="#5fa550"/>
<rect x="437.70" y="412.70" width="16.20" height="8.30" fill="#62a4dd"/>
<rect x="437.70" y="421.00" width="16.20" height="0.90" fill="#af002d"/>
<line x1="445.80" y1="421.90" x2="445.80" y2="424.70" stroke="#111" stroke-width="1.0"/>
<line x1="369.20" y1="421.90" x2="455.20" y2="421.90" stroke="#000" stroke-width="1.4"/>
<text x="412.20" y="351.30" font-size="8.4" text-anchor="middle" textLength="72.7" lengthAdjust="spacingAndGlyphs" dominant-baseline="central">IFN-γ+ CD8 T Cells</text>
<text x="342.60" y="391.20" font-size="8.2" text-anchor="middle" font-weight="bold" fill="#222" textLength="25.2" lengthAdjust="spacingAndGlyphs" transform="rotate(-90 342.60 391.20)" dominant-baseline="central">% IFN-γ+</text>
<g transform="translate(382.20 429.60) rotate(-45)"><text x="0" y="0.00" font-size="6.5" text-anchor="end" dominant-baseline="central" fill="#222">DMSO</text></g>
<g transform="translate(404.00 429.60) rotate(-45)"><text x="0" y="0.00" font-size="6.5" text-anchor="end" dominant-baseline="central" fill="#222">100 nM</text><text x="0" y="8.30" font-size="6.5" text-anchor="end" dominant-baseline="central" fill="#222">Idelalisib</text></g>
<g transform="translate(425.70 429.60) rotate(-45)"><text x="0" y="0.00" font-size="6.5" text-anchor="end" dominant-baseline="central" fill="#222">3 μM</text><text x="0" y="8.30" font-size="6.5" text-anchor="end" dominant-baseline="central" fill="#222">VIPhyb</text></g>
<g transform="translate(447.80 429.60) rotate(-45)"><text x="0" y="0.00" font-size="6.5" text-anchor="end" dominant-baseline="central" fill="#222">100 nM</text><text x="0" y="8.30" font-size="6.5" text-anchor="end" dominant-baseline="central" fill="#222">Idelalisib</text><text x="0" y="16.60" font-size="6.5" text-anchor="end" dominant-baseline="central" fill="#222">+ VIPhyb</text></g>
<text x="412.50" y="420.80" font-size="5.0" text-anchor="middle" fill="#222" dominant-baseline="central">**</text>
<text x="457.20" y="420.80" font-size="5.0" text-anchor="middle" fill="#222" dominant-baseline="central">***</text>
<rect x="0.00" y="0.00" width="520.00" height="1.10" fill="#000"/>
<rect x="0.00" y="0.00" width="1.10" height="627.00" fill="#000"/>
<rect x="518.30" y="0.00" width="1.70" height="627.00" fill="#000"/>
<rect x="0.00" y="625.30" width="520.00" height="1.70" fill="#000"/>
</svg></body></html>
